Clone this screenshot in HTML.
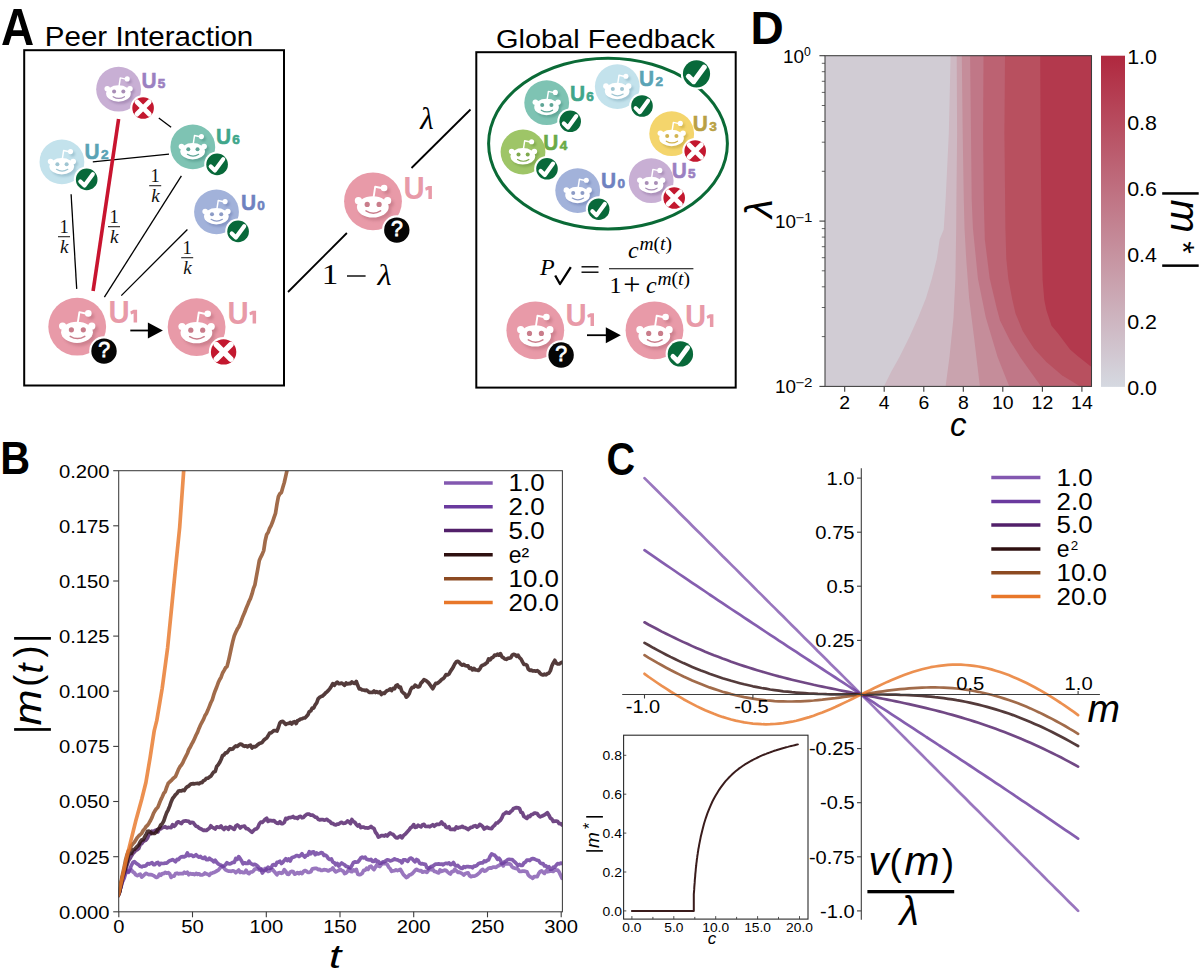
<!DOCTYPE html>
<html><head><meta charset="utf-8"><title>Figure</title>
<style>
html,body{margin:0;padding:0;background:#fff;}
body{width:1200px;height:970px;overflow:hidden;font-family:"Liberation Sans", sans-serif;}
svg{display:block;}
</style></head><body>
<svg width="1200" height="970" viewBox="0 0 1200 970">
<defs><filter id="shb" x="-30%" y="-30%" width="160%" height="160%"><feGaussianBlur stdDeviation="1.6"/></filter></defs>
<rect width="1200" height="970" fill="#fff"/>
<text x="0" y="44.8" font-family='"Liberation Sans", sans-serif' font-weight="bold" font-size="51" fill="#000" transform="translate(1.1 0) scale(0.9 1)">A</text><text x="44.8" y="45.8" font-family='"Liberation Sans", sans-serif' font-size="28.5" fill="#000" textLength="208.5" lengthAdjust="spacingAndGlyphs">Peer Interaction</text><rect x="24.2" y="50.2" width="259.8" height="335.3" fill="none" stroke="#000" stroke-width="2"/><line x1="158.8" y1="118" x2="171.1" y2="127.3" stroke="#000" stroke-width="1.3"/><line x1="92.8" y1="161.9" x2="169" y2="154.1" stroke="#000" stroke-width="1.3"/><line x1="71.1" y1="194.3" x2="76.7" y2="288.9" stroke="#000" stroke-width="1.3"/><line x1="118.6" y1="119" x2="93.1" y2="291.1" stroke="#c8142f" stroke-width="3.6"/><line x1="181.4" y1="175.8" x2="104.4" y2="297.2" stroke="#000" stroke-width="1.3"/><line x1="187.4" y1="229.5" x2="121.3" y2="295.6" stroke="#000" stroke-width="1.3"/><text x="64" y="233.1" font-family='"Liberation Serif", serif' font-size="18.5" text-anchor="middle" fill="#111">1</text><line x1="58" y1="236.7" x2="70" y2="236.7" stroke="#222" stroke-width="1.1"/><text x="64.2" y="252.7" font-family='"Liberation Serif", serif' font-style="italic" font-size="19" text-anchor="middle" fill="#111">k</text><text x="114" y="223.1" font-family='"Liberation Serif", serif' font-size="18.5" text-anchor="middle" fill="#111">1</text><line x1="108" y1="226.7" x2="120" y2="226.7" stroke="#222" stroke-width="1.1"/><text x="114.2" y="242.7" font-family='"Liberation Serif", serif' font-style="italic" font-size="19" text-anchor="middle" fill="#111">k</text><text x="155.2" y="182.1" font-family='"Liberation Serif", serif' font-size="18.5" text-anchor="middle" fill="#111">1</text><line x1="149.2" y1="185.7" x2="161.2" y2="185.7" stroke="#222" stroke-width="1.1"/><text x="155.4" y="201.7" font-family='"Liberation Serif", serif' font-style="italic" font-size="19" text-anchor="middle" fill="#111">k</text><text x="187.2" y="254.1" font-family='"Liberation Serif", serif' font-size="18.5" text-anchor="middle" fill="#111">1</text><line x1="181.2" y1="257.7" x2="193.2" y2="257.7" stroke="#222" stroke-width="1.1"/><text x="187.4" y="273.7" font-family='"Liberation Serif", serif' font-style="italic" font-size="19" text-anchor="middle" fill="#111">k</text><circle cx="118.6" cy="89.2" r="22.4" fill="#c8afd4"/><g transform="translate(118.6 89.2) scale(0.7751)"><g fill="#a185b1" opacity="0.75" filter="url(#shb)" transform="translate(2.6 3)"><ellipse cx="-0.2" cy="5.6" rx="15.9" ry="10.6"/><circle cx="14.6" cy="-0.6" r="3.6"/><circle cx="11.1" cy="-13.3" r="3.3"/></g><path d="M0.6 -4 L2.2 -14.6 L9.5 -13" fill="none" stroke="#fff" stroke-width="1.9" stroke-linejoin="round"/><circle cx="11.1" cy="-13.3" r="3.3" fill="#fff"/><circle cx="-14.6" cy="-0.6" r="3.6" fill="#fff"/><circle cx="14.6" cy="-0.6" r="3.6" fill="#fff"/><ellipse cx="-0.2" cy="5.6" rx="15.9" ry="10.6" fill="#fff"/><circle cx="-5.8" cy="3.1" r="2.6" fill="#a88db6"/><circle cx="6.1" cy="3.1" r="2.6" fill="#a88db6"/><path d="M-7 9.6 Q0.3 14.2 7.6 9.6" fill="none" stroke="#a88db6" stroke-width="1.5" stroke-linecap="round"/></g><circle cx="143.1" cy="108" r="12.9" fill="#fff"/><circle cx="143.1" cy="108" r="10.8" fill="#c3182f"/><path transform="translate(143.1 108) scale(0.964)" d="M-6.3 -6.3 L6.3 6.3 M6.3 -6.3 L-6.3 6.3" fill="none" stroke="#fff" stroke-width="5" stroke-linecap="round"/><text x="0" y="0" font-family='"Liberation Sans", sans-serif' font-weight="bold" font-size="22" fill="#9b80c1" stroke="#9b80c1" stroke-width="0.5" transform="translate(141.4 87.5) scale(0.95 1)">U</text><text x="157.8" y="87.5" font-family='"Liberation Sans", sans-serif' font-weight="bold" font-size="13.6" fill="#9b80c1" stroke="#9b80c1" stroke-width="0.6">5</text><circle cx="61.9" cy="161.9" r="22.4" fill="#c3e2ec"/><g transform="translate(61.9 161.9) scale(0.7751)"><g fill="#95bccb" opacity="0.75" filter="url(#shb)" transform="translate(2.6 3)"><ellipse cx="-0.2" cy="5.6" rx="15.9" ry="10.6"/><circle cx="14.6" cy="-0.6" r="3.6"/><circle cx="11.1" cy="-13.3" r="3.3"/></g><path d="M0.6 -4 L2.2 -14.6 L9.5 -13" fill="none" stroke="#fff" stroke-width="1.9" stroke-linejoin="round"/><circle cx="11.1" cy="-13.3" r="3.3" fill="#fff"/><circle cx="-14.6" cy="-0.6" r="3.6" fill="#fff"/><circle cx="14.6" cy="-0.6" r="3.6" fill="#fff"/><ellipse cx="-0.2" cy="5.6" rx="15.9" ry="10.6" fill="#fff"/><circle cx="-5.8" cy="3.1" r="2.6" fill="#9fc5d2"/><circle cx="6.1" cy="3.1" r="2.6" fill="#9fc5d2"/><path d="M-7 9.6 Q0.3 14.2 7.6 9.6" fill="none" stroke="#9fc5d2" stroke-width="1.5" stroke-linecap="round"/></g><circle cx="86.7" cy="179.4" r="12.9" fill="#fff"/><circle cx="86.7" cy="179.4" r="10.8" fill="#08693a"/><path transform="translate(86.7 179.4) scale(0.964)" d="M-6.6 2.2 L-2.3 6.4 L6.3 -5.4" fill="none" stroke="#fff" stroke-width="4.3" stroke-linecap="round" stroke-linejoin="round"/><text x="0" y="0" font-family='"Liberation Sans", sans-serif' font-weight="bold" font-size="22" fill="#5aa3b5" stroke="#5aa3b5" stroke-width="0.5" transform="translate(84.5 158.8) scale(0.95 1)">U</text><text x="100.9" y="158.8" font-family='"Liberation Sans", sans-serif' font-weight="bold" font-size="13.6" fill="#5aa3b5" stroke="#5aa3b5" stroke-width="0.6">2</text><circle cx="192.8" cy="146.9" r="22.4" fill="#7ec3b3"/><g transform="translate(192.8 146.9) scale(0.7751)"><g fill="#599f90" opacity="0.75" filter="url(#shb)" transform="translate(2.6 3)"><ellipse cx="-0.2" cy="5.6" rx="15.9" ry="10.6"/><circle cx="14.6" cy="-0.6" r="3.6"/><circle cx="11.1" cy="-13.3" r="3.3"/></g><path d="M0.6 -4 L2.2 -14.6 L9.5 -13" fill="none" stroke="#fff" stroke-width="1.9" stroke-linejoin="round"/><circle cx="11.1" cy="-13.3" r="3.3" fill="#fff"/><circle cx="-14.6" cy="-0.6" r="3.6" fill="#fff"/><circle cx="14.6" cy="-0.6" r="3.6" fill="#fff"/><ellipse cx="-0.2" cy="5.6" rx="15.9" ry="10.6" fill="#fff"/><circle cx="-5.8" cy="3.1" r="2.6" fill="#5ea596"/><circle cx="6.1" cy="3.1" r="2.6" fill="#5ea596"/><path d="M-7 9.6 Q0.3 14.2 7.6 9.6" fill="none" stroke="#5ea596" stroke-width="1.5" stroke-linecap="round"/></g><circle cx="217.1" cy="164.4" r="12.9" fill="#fff"/><circle cx="217.1" cy="164.4" r="10.8" fill="#08693a"/><path transform="translate(217.1 164.4) scale(0.964)" d="M-6.6 2.2 L-2.3 6.4 L6.3 -5.4" fill="none" stroke="#fff" stroke-width="4.3" stroke-linecap="round" stroke-linejoin="round"/><text x="0" y="0" font-family='"Liberation Sans", sans-serif' font-weight="bold" font-size="22" fill="#3fa68a" stroke="#3fa68a" stroke-width="0.5" transform="translate(216 143.7) scale(0.95 1)">U</text><text x="232.3" y="143.7" font-family='"Liberation Sans", sans-serif' font-weight="bold" font-size="13.6" fill="#3fa68a" stroke="#3fa68a" stroke-width="0.6">6</text><circle cx="216.5" cy="211.9" r="22.4" fill="#a2b2da"/><g transform="translate(216.5 211.9) scale(0.7751)"><g fill="#7c8cbd" opacity="0.75" filter="url(#shb)" transform="translate(2.6 3)"><ellipse cx="-0.2" cy="5.6" rx="15.9" ry="10.6"/><circle cx="14.6" cy="-0.6" r="3.6"/><circle cx="11.1" cy="-13.3" r="3.3"/></g><path d="M0.6 -4 L2.2 -14.6 L9.5 -13" fill="none" stroke="#fff" stroke-width="1.9" stroke-linejoin="round"/><circle cx="11.1" cy="-13.3" r="3.3" fill="#fff"/><circle cx="-14.6" cy="-0.6" r="3.6" fill="#fff"/><circle cx="14.6" cy="-0.6" r="3.6" fill="#fff"/><ellipse cx="-0.2" cy="5.6" rx="15.9" ry="10.6" fill="#fff"/><circle cx="-5.8" cy="3.1" r="2.6" fill="#8c9bc6"/><circle cx="6.1" cy="3.1" r="2.6" fill="#8c9bc6"/><path d="M-7 9.6 Q0.3 14.2 7.6 9.6" fill="none" stroke="#8c9bc6" stroke-width="1.5" stroke-linecap="round"/></g><circle cx="238.1" cy="231.4" r="12.9" fill="#fff"/><circle cx="238.1" cy="231.4" r="10.8" fill="#08693a"/><path transform="translate(238.1 231.4) scale(0.964)" d="M-6.6 2.2 L-2.3 6.4 L6.3 -5.4" fill="none" stroke="#fff" stroke-width="4.3" stroke-linecap="round" stroke-linejoin="round"/><text x="0" y="0" font-family='"Liberation Sans", sans-serif' font-weight="bold" font-size="22" fill="#6f82c0" stroke="#6f82c0" stroke-width="0.5" transform="translate(241 209.8) scale(0.95 1)">U</text><text x="257.3" y="209.8" font-family='"Liberation Sans", sans-serif' font-weight="bold" font-size="13.6" fill="#6f82c0" stroke="#6f82c0" stroke-width="0.6">0</text><circle cx="77.2" cy="326.7" r="28.9" fill="#e89aa8"/><g transform="translate(77.2 326.7) scale(1.0000)"><g fill="#c47886" opacity="0.75" filter="url(#shb)" transform="translate(2.6 3)"><ellipse cx="-0.2" cy="5.6" rx="15.9" ry="10.6"/><circle cx="14.6" cy="-0.6" r="3.6"/><circle cx="11.1" cy="-13.3" r="3.3"/></g><path d="M0.6 -4 L2.2 -14.6 L9.5 -13" fill="none" stroke="#fff" stroke-width="1.9" stroke-linejoin="round"/><circle cx="11.1" cy="-13.3" r="3.3" fill="#fff"/><circle cx="-14.6" cy="-0.6" r="3.6" fill="#fff"/><circle cx="14.6" cy="-0.6" r="3.6" fill="#fff"/><ellipse cx="-0.2" cy="5.6" rx="15.9" ry="10.6" fill="#fff"/><circle cx="-5.8" cy="3.1" r="2.6" fill="#c97d8b"/><circle cx="6.1" cy="3.1" r="2.6" fill="#c97d8b"/><path d="M-7 9.6 Q0.3 14.2 7.6 9.6" fill="none" stroke="#c97d8b" stroke-width="1.5" stroke-linecap="round"/></g><circle cx="104" cy="351.1" r="14.8" fill="#fff"/><circle cx="104" cy="351.1" r="12.7" fill="#050505"/><text x="104.1" y="356.9" font-family='"Liberation Sans", sans-serif' font-size="21.3" fill="#fff" stroke="#fff" stroke-width="0.8" text-anchor="middle">?</text><text x="0" y="0" font-family='"Liberation Sans", sans-serif' font-weight="bold" font-size="30.7" fill="#e89aa8" transform="translate(108.6 322.6) scale(0.955 1)">U</text><path d="M3.25 0 L6.8 0 L6.8 12.8 L3.3 12.8 L3.3 3.7 L0.75 4.6 L0 1.7 Z" fill="#e89aa8" transform="translate(130.3 309.8)"/><line x1="130.3" y1="330.5" x2="150.9" y2="330.5" stroke="#000" stroke-width="1.8"/><path d="M147.9 322.5 L162.9 330.5 L147.9 338.5 Z" fill="#000"/><circle cx="196.6" cy="327.1" r="28.9" fill="#e89aa8"/><g transform="translate(196.6 327.1) scale(1.0000)"><g fill="#c47886" opacity="0.75" filter="url(#shb)" transform="translate(2.6 3)"><ellipse cx="-0.2" cy="5.6" rx="15.9" ry="10.6"/><circle cx="14.6" cy="-0.6" r="3.6"/><circle cx="11.1" cy="-13.3" r="3.3"/></g><path d="M0.6 -4 L2.2 -14.6 L9.5 -13" fill="none" stroke="#fff" stroke-width="1.9" stroke-linejoin="round"/><circle cx="11.1" cy="-13.3" r="3.3" fill="#fff"/><circle cx="-14.6" cy="-0.6" r="3.6" fill="#fff"/><circle cx="14.6" cy="-0.6" r="3.6" fill="#fff"/><ellipse cx="-0.2" cy="5.6" rx="15.9" ry="10.6" fill="#fff"/><circle cx="-5.8" cy="3.1" r="2.6" fill="#c97d8b"/><circle cx="6.1" cy="3.1" r="2.6" fill="#c97d8b"/><path d="M-7 9.6 Q0.3 14.2 7.6 9.6" fill="none" stroke="#c97d8b" stroke-width="1.5" stroke-linecap="round"/></g><circle cx="223.6" cy="351.9" r="14.8" fill="#fff"/><circle cx="223.6" cy="351.9" r="12.7" fill="#c3182f"/><path transform="translate(223.6 351.9) scale(1.134)" d="M-6.3 -6.3 L6.3 6.3 M6.3 -6.3 L-6.3 6.3" fill="none" stroke="#fff" stroke-width="5" stroke-linecap="round"/><text x="0" y="0" font-family='"Liberation Sans", sans-serif' font-weight="bold" font-size="30.7" fill="#e89aa8" transform="translate(227.6 323.5) scale(0.955 1)">U</text><path d="M3.25 0 L6.8 0 L6.8 12.8 L3.3 12.8 L3.3 3.7 L0.75 4.6 L0 1.7 Z" fill="#e89aa8" transform="translate(249.3 310.7)"/><line x1="411.5" y1="168" x2="470.5" y2="109.5" stroke="#000" stroke-width="1.8"/><line x1="288" y1="292" x2="346.9" y2="233" stroke="#000" stroke-width="1.8"/><text x="427" y="128.8" font-family='"Liberation Serif", serif' font-style="italic" font-size="31" text-anchor="middle" fill="#000">λ</text><text x="0" y="0" font-family='"Liberation Serif", serif' font-size="30" fill="#000" transform="translate(321.8 284) scale(1.1 1)">1</text><line x1="347" y1="276" x2="365.6" y2="276" stroke="#000" stroke-width="1.4"/><text x="0" y="0" font-family='"Liberation Serif", serif' font-style="italic" font-size="29" fill="#000" transform="translate(377.5 284.6) scale(1.12 1)">λ</text><circle cx="373" cy="201.3" r="28.9" fill="#e89aa8"/><g transform="translate(373 201.3) scale(1.0000)"><g fill="#c47886" opacity="0.75" filter="url(#shb)" transform="translate(2.6 3)"><ellipse cx="-0.2" cy="5.6" rx="15.9" ry="10.6"/><circle cx="14.6" cy="-0.6" r="3.6"/><circle cx="11.1" cy="-13.3" r="3.3"/></g><path d="M0.6 -4 L2.2 -14.6 L9.5 -13" fill="none" stroke="#fff" stroke-width="1.9" stroke-linejoin="round"/><circle cx="11.1" cy="-13.3" r="3.3" fill="#fff"/><circle cx="-14.6" cy="-0.6" r="3.6" fill="#fff"/><circle cx="14.6" cy="-0.6" r="3.6" fill="#fff"/><ellipse cx="-0.2" cy="5.6" rx="15.9" ry="10.6" fill="#fff"/><circle cx="-5.8" cy="3.1" r="2.6" fill="#c97d8b"/><circle cx="6.1" cy="3.1" r="2.6" fill="#c97d8b"/><path d="M-7 9.6 Q0.3 14.2 7.6 9.6" fill="none" stroke="#c97d8b" stroke-width="1.5" stroke-linecap="round"/></g><circle cx="396.8" cy="230.1" r="14.8" fill="#fff"/><circle cx="396.8" cy="230.1" r="12.7" fill="#050505"/><text x="396.9" y="235.9" font-family='"Liberation Sans", sans-serif' font-size="21.3" fill="#fff" stroke="#fff" stroke-width="0.8" text-anchor="middle">?</text><text x="0" y="0" font-family='"Liberation Sans", sans-serif' font-weight="bold" font-size="30.7" fill="#e89aa8" transform="translate(403.4 198.9) scale(0.955 1)">U</text><path d="M3.25 0 L6.8 0 L6.8 12.8 L3.3 12.8 L3.3 3.7 L0.75 4.6 L0 1.7 Z" fill="#e89aa8" transform="translate(425.1 186.1)"/><text x="496" y="48.3" font-family='"Liberation Sans", sans-serif' font-size="26" fill="#000" textLength="219" lengthAdjust="spacingAndGlyphs">Global Feedback</text><rect x="476.3" y="52.2" width="259.4" height="335.4" fill="none" stroke="#000" stroke-width="2"/><ellipse cx="608" cy="143.6" rx="119.4" ry="85.4" fill="none" stroke="#0a6a36" stroke-width="3"/><circle cx="696.5" cy="73.8" r="15.7" fill="#fff"/><circle cx="696.5" cy="73.8" r="13.6" fill="#08693a"/><path transform="translate(696.5 73.8) scale(1.214)" d="M-6.6 2.2 L-2.3 6.4 L6.3 -5.4" fill="none" stroke="#fff" stroke-width="4.3" stroke-linecap="round" stroke-linejoin="round"/><circle cx="546.7" cy="102.7" r="22.4" fill="#7ec3b3"/><g transform="translate(546.7 102.7) scale(0.7751)"><g fill="#599f90" opacity="0.75" filter="url(#shb)" transform="translate(2.6 3)"><ellipse cx="-0.2" cy="5.6" rx="15.9" ry="10.6"/><circle cx="14.6" cy="-0.6" r="3.6"/><circle cx="11.1" cy="-13.3" r="3.3"/></g><path d="M0.6 -4 L2.2 -14.6 L9.5 -13" fill="none" stroke="#fff" stroke-width="1.9" stroke-linejoin="round"/><circle cx="11.1" cy="-13.3" r="3.3" fill="#fff"/><circle cx="-14.6" cy="-0.6" r="3.6" fill="#fff"/><circle cx="14.6" cy="-0.6" r="3.6" fill="#fff"/><ellipse cx="-0.2" cy="5.6" rx="15.9" ry="10.6" fill="#fff"/><circle cx="-5.8" cy="3.1" r="2.6" fill="#5ea596"/><circle cx="6.1" cy="3.1" r="2.6" fill="#5ea596"/><path d="M-7 9.6 Q0.3 14.2 7.6 9.6" fill="none" stroke="#5ea596" stroke-width="1.5" stroke-linecap="round"/></g><circle cx="570.2" cy="121.3" r="12.9" fill="#fff"/><circle cx="570.2" cy="121.3" r="10.8" fill="#08693a"/><path transform="translate(570.2 121.3) scale(0.964)" d="M-6.6 2.2 L-2.3 6.4 L6.3 -5.4" fill="none" stroke="#fff" stroke-width="4.3" stroke-linecap="round" stroke-linejoin="round"/><text x="0" y="0" font-family='"Liberation Sans", sans-serif' font-weight="bold" font-size="22" fill="#3fa68a" stroke="#3fa68a" stroke-width="0.5" transform="translate(570 101.2) scale(0.95 1)">U</text><text x="586.2" y="101.2" font-family='"Liberation Sans", sans-serif' font-weight="bold" font-size="13.6" fill="#3fa68a" stroke="#3fa68a" stroke-width="0.6">6</text><circle cx="617.3" cy="86.6" r="22.4" fill="#c3e2ec"/><g transform="translate(617.3 86.6) scale(0.7751)"><g fill="#95bccb" opacity="0.75" filter="url(#shb)" transform="translate(2.6 3)"><ellipse cx="-0.2" cy="5.6" rx="15.9" ry="10.6"/><circle cx="14.6" cy="-0.6" r="3.6"/><circle cx="11.1" cy="-13.3" r="3.3"/></g><path d="M0.6 -4 L2.2 -14.6 L9.5 -13" fill="none" stroke="#fff" stroke-width="1.9" stroke-linejoin="round"/><circle cx="11.1" cy="-13.3" r="3.3" fill="#fff"/><circle cx="-14.6" cy="-0.6" r="3.6" fill="#fff"/><circle cx="14.6" cy="-0.6" r="3.6" fill="#fff"/><ellipse cx="-0.2" cy="5.6" rx="15.9" ry="10.6" fill="#fff"/><circle cx="-5.8" cy="3.1" r="2.6" fill="#9fc5d2"/><circle cx="6.1" cy="3.1" r="2.6" fill="#9fc5d2"/><path d="M-7 9.6 Q0.3 14.2 7.6 9.6" fill="none" stroke="#9fc5d2" stroke-width="1.5" stroke-linecap="round"/></g><circle cx="642" cy="106" r="12.9" fill="#fff"/><circle cx="642" cy="106" r="10.8" fill="#08693a"/><path transform="translate(642 106) scale(0.964)" d="M-6.6 2.2 L-2.3 6.4 L6.3 -5.4" fill="none" stroke="#fff" stroke-width="4.3" stroke-linecap="round" stroke-linejoin="round"/><text x="0" y="0" font-family='"Liberation Sans", sans-serif' font-weight="bold" font-size="22" fill="#5aa3b5" stroke="#5aa3b5" stroke-width="0.5" transform="translate(639.1 85.8) scale(0.95 1)">U</text><text x="655.5" y="85.8" font-family='"Liberation Sans", sans-serif' font-weight="bold" font-size="13.6" fill="#5aa3b5" stroke="#5aa3b5" stroke-width="0.6">2</text><circle cx="523" cy="152" r="22.4" fill="#9ec567"/><g transform="translate(523 152) scale(0.7751)"><g fill="#7aa348" opacity="0.75" filter="url(#shb)" transform="translate(2.6 3)"><ellipse cx="-0.2" cy="5.6" rx="15.9" ry="10.6"/><circle cx="14.6" cy="-0.6" r="3.6"/><circle cx="11.1" cy="-13.3" r="3.3"/></g><path d="M0.6 -4 L2.2 -14.6 L9.5 -13" fill="none" stroke="#fff" stroke-width="1.9" stroke-linejoin="round"/><circle cx="11.1" cy="-13.3" r="3.3" fill="#fff"/><circle cx="-14.6" cy="-0.6" r="3.6" fill="#fff"/><circle cx="14.6" cy="-0.6" r="3.6" fill="#fff"/><ellipse cx="-0.2" cy="5.6" rx="15.9" ry="10.6" fill="#fff"/><circle cx="-5.8" cy="3.1" r="2.6" fill="#7ea94c"/><circle cx="6.1" cy="3.1" r="2.6" fill="#7ea94c"/><path d="M-7 9.6 Q0.3 14.2 7.6 9.6" fill="none" stroke="#7ea94c" stroke-width="1.5" stroke-linecap="round"/></g><circle cx="547" cy="168.8" r="12.9" fill="#fff"/><circle cx="547" cy="168.8" r="10.8" fill="#08693a"/><path transform="translate(547 168.8) scale(0.964)" d="M-6.6 2.2 L-2.3 6.4 L6.3 -5.4" fill="none" stroke="#fff" stroke-width="4.3" stroke-linecap="round" stroke-linejoin="round"/><text x="0" y="0" font-family='"Liberation Sans", sans-serif' font-weight="bold" font-size="22" fill="#6aaa48" stroke="#6aaa48" stroke-width="0.5" transform="translate(543.2 149.5) scale(0.95 1)">U</text><text x="559.8" y="149.5" font-family='"Liberation Sans", sans-serif' font-weight="bold" font-size="13.6" fill="#6aaa48" stroke="#6aaa48" stroke-width="0.6">4</text><circle cx="671.7" cy="133.7" r="22.4" fill="#f4d56c"/><g transform="translate(671.7 133.7) scale(0.7751)"><g fill="#cdb14c" opacity="0.75" filter="url(#shb)" transform="translate(2.6 3)"><ellipse cx="-0.2" cy="5.6" rx="15.9" ry="10.6"/><circle cx="14.6" cy="-0.6" r="3.6"/><circle cx="11.1" cy="-13.3" r="3.3"/></g><path d="M0.6 -4 L2.2 -14.6 L9.5 -13" fill="none" stroke="#fff" stroke-width="1.9" stroke-linejoin="round"/><circle cx="11.1" cy="-13.3" r="3.3" fill="#fff"/><circle cx="-14.6" cy="-0.6" r="3.6" fill="#fff"/><circle cx="14.6" cy="-0.6" r="3.6" fill="#fff"/><ellipse cx="-0.2" cy="5.6" rx="15.9" ry="10.6" fill="#fff"/><circle cx="-5.8" cy="3.1" r="2.6" fill="#d2b452"/><circle cx="6.1" cy="3.1" r="2.6" fill="#d2b452"/><path d="M-7 9.6 Q0.3 14.2 7.6 9.6" fill="none" stroke="#d2b452" stroke-width="1.5" stroke-linecap="round"/></g><circle cx="695.2" cy="151" r="12.9" fill="#fff"/><circle cx="695.2" cy="151" r="10.8" fill="#c3182f"/><path transform="translate(695.2 151) scale(0.964)" d="M-6.3 -6.3 L6.3 6.3 M6.3 -6.3 L-6.3 6.3" fill="none" stroke="#fff" stroke-width="5" stroke-linecap="round"/><text x="0" y="0" font-family='"Liberation Sans", sans-serif' font-weight="bold" font-size="22" fill="#b9a043" stroke="#b9a043" stroke-width="0.5" transform="translate(692.7 131.2) scale(0.95 1)">U</text><text x="709.3" y="131.2" font-family='"Liberation Sans", sans-serif' font-weight="bold" font-size="13.6" fill="#b9a043" stroke="#b9a043" stroke-width="0.6">3</text><circle cx="577.7" cy="190.6" r="22.4" fill="#a2b2da"/><g transform="translate(577.7 190.6) scale(0.7751)"><g fill="#7c8cbd" opacity="0.75" filter="url(#shb)" transform="translate(2.6 3)"><ellipse cx="-0.2" cy="5.6" rx="15.9" ry="10.6"/><circle cx="14.6" cy="-0.6" r="3.6"/><circle cx="11.1" cy="-13.3" r="3.3"/></g><path d="M0.6 -4 L2.2 -14.6 L9.5 -13" fill="none" stroke="#fff" stroke-width="1.9" stroke-linejoin="round"/><circle cx="11.1" cy="-13.3" r="3.3" fill="#fff"/><circle cx="-14.6" cy="-0.6" r="3.6" fill="#fff"/><circle cx="14.6" cy="-0.6" r="3.6" fill="#fff"/><ellipse cx="-0.2" cy="5.6" rx="15.9" ry="10.6" fill="#fff"/><circle cx="-5.8" cy="3.1" r="2.6" fill="#8c9bc6"/><circle cx="6.1" cy="3.1" r="2.6" fill="#8c9bc6"/><path d="M-7 9.6 Q0.3 14.2 7.6 9.6" fill="none" stroke="#8c9bc6" stroke-width="1.5" stroke-linecap="round"/></g><circle cx="598.7" cy="209.2" r="12.9" fill="#fff"/><circle cx="598.7" cy="209.2" r="10.8" fill="#08693a"/><path transform="translate(598.7 209.2) scale(0.964)" d="M-6.6 2.2 L-2.3 6.4 L6.3 -5.4" fill="none" stroke="#fff" stroke-width="4.3" stroke-linecap="round" stroke-linejoin="round"/><text x="0" y="0" font-family='"Liberation Sans", sans-serif' font-weight="bold" font-size="22" fill="#6f82c0" stroke="#6f82c0" stroke-width="0.5" transform="translate(601.1 188.1) scale(0.95 1)">U</text><text x="617.4" y="188.1" font-family='"Liberation Sans", sans-serif' font-weight="bold" font-size="13.6" fill="#6f82c0" stroke="#6f82c0" stroke-width="0.6">0</text><circle cx="651.2" cy="180.7" r="22.4" fill="#c8afd4"/><g transform="translate(651.2 180.7) scale(0.7751)"><g fill="#a185b1" opacity="0.75" filter="url(#shb)" transform="translate(2.6 3)"><ellipse cx="-0.2" cy="5.6" rx="15.9" ry="10.6"/><circle cx="14.6" cy="-0.6" r="3.6"/><circle cx="11.1" cy="-13.3" r="3.3"/></g><path d="M0.6 -4 L2.2 -14.6 L9.5 -13" fill="none" stroke="#fff" stroke-width="1.9" stroke-linejoin="round"/><circle cx="11.1" cy="-13.3" r="3.3" fill="#fff"/><circle cx="-14.6" cy="-0.6" r="3.6" fill="#fff"/><circle cx="14.6" cy="-0.6" r="3.6" fill="#fff"/><ellipse cx="-0.2" cy="5.6" rx="15.9" ry="10.6" fill="#fff"/><circle cx="-5.8" cy="3.1" r="2.6" fill="#a88db6"/><circle cx="6.1" cy="3.1" r="2.6" fill="#a88db6"/><path d="M-7 9.6 Q0.3 14.2 7.6 9.6" fill="none" stroke="#a88db6" stroke-width="1.5" stroke-linecap="round"/></g><circle cx="674.2" cy="198" r="12.9" fill="#fff"/><circle cx="674.2" cy="198" r="10.8" fill="#c3182f"/><path transform="translate(674.2 198) scale(0.964)" d="M-6.3 -6.3 L6.3 6.3 M6.3 -6.3 L-6.3 6.3" fill="none" stroke="#fff" stroke-width="5" stroke-linecap="round"/><text x="0" y="0" font-family='"Liberation Sans", sans-serif' font-weight="bold" font-size="22" fill="#9b80c1" stroke="#9b80c1" stroke-width="0.5" transform="translate(671.7 177.7) scale(0.95 1)">U</text><text x="688.1" y="177.7" font-family='"Liberation Sans", sans-serif' font-weight="bold" font-size="13.6" fill="#9b80c1" stroke="#9b80c1" stroke-width="0.6">5</text><text x="540" y="275" font-family='"Liberation Serif", serif' font-style="italic" font-size="24" fill="#000">P</text><path d="M555.2 275.5 L560 284 L570.8 267.2" fill="none" stroke="#000" stroke-width="2.3" stroke-linejoin="round"/><line x1="581.5" y1="266.8" x2="598.5" y2="266.8" stroke="#000" stroke-width="1.4"/><line x1="581.5" y1="272.2" x2="598.5" y2="272.2" stroke="#000" stroke-width="1.4"/><line x1="609" y1="268.8" x2="693.4" y2="268.8" stroke="#000" stroke-width="1.1"/><text x="628" y="258" font-family='"Liberation Serif", serif' font-style="italic" font-size="24" fill="#000">c</text><text x="639.5" y="250" font-family='"Liberation Serif", serif' font-size="19" fill="#000" textLength="32.5" lengthAdjust="spacingAndGlyphs"><tspan font-style="italic">m</tspan>(<tspan font-style="italic">t</tspan>)</text><text x="609.5" y="293" font-family='"Liberation Serif", serif' font-size="24" fill="#000">1</text><text x="623.2" y="295.2" font-family='"Liberation Serif", serif' font-size="30.5" fill="#000">+</text><text x="646" y="293" font-family='"Liberation Serif", serif' font-style="italic" font-size="24" fill="#000">c</text><text x="657.5" y="285" font-family='"Liberation Serif", serif' font-size="19" fill="#000" textLength="32.5" lengthAdjust="spacingAndGlyphs"><tspan font-style="italic">m</tspan>(<tspan font-style="italic">t</tspan>)</text><circle cx="535.3" cy="330.3" r="28.9" fill="#e89aa8"/><g transform="translate(535.3 330.3) scale(1.0000)"><g fill="#c47886" opacity="0.75" filter="url(#shb)" transform="translate(2.6 3)"><ellipse cx="-0.2" cy="5.6" rx="15.9" ry="10.6"/><circle cx="14.6" cy="-0.6" r="3.6"/><circle cx="11.1" cy="-13.3" r="3.3"/></g><path d="M0.6 -4 L2.2 -14.6 L9.5 -13" fill="none" stroke="#fff" stroke-width="1.9" stroke-linejoin="round"/><circle cx="11.1" cy="-13.3" r="3.3" fill="#fff"/><circle cx="-14.6" cy="-0.6" r="3.6" fill="#fff"/><circle cx="14.6" cy="-0.6" r="3.6" fill="#fff"/><ellipse cx="-0.2" cy="5.6" rx="15.9" ry="10.6" fill="#fff"/><circle cx="-5.8" cy="3.1" r="2.6" fill="#c97d8b"/><circle cx="6.1" cy="3.1" r="2.6" fill="#c97d8b"/><path d="M-7 9.6 Q0.3 14.2 7.6 9.6" fill="none" stroke="#c97d8b" stroke-width="1.5" stroke-linecap="round"/></g><circle cx="561.1" cy="355" r="14.8" fill="#fff"/><circle cx="561.1" cy="355" r="12.7" fill="#050505"/><text x="561.2" y="360.8" font-family='"Liberation Sans", sans-serif' font-size="21.3" fill="#fff" stroke="#fff" stroke-width="0.8" text-anchor="middle">?</text><text x="0" y="0" font-family='"Liberation Sans", sans-serif' font-weight="bold" font-size="30.7" fill="#e89aa8" transform="translate(565.5 326) scale(0.955 1)">U</text><path d="M3.25 0 L6.8 0 L6.8 12.8 L3.3 12.8 L3.3 3.7 L0.75 4.6 L0 1.7 Z" fill="#e89aa8" transform="translate(587.2 313.2)"/><line x1="587" y1="335.2" x2="608.8" y2="335.2" stroke="#000" stroke-width="1.8"/><path d="M605.8 327.2 L620.8 335.2 L605.8 343.2 Z" fill="#000"/><circle cx="654.5" cy="330.3" r="28.9" fill="#e89aa8"/><g transform="translate(654.5 330.3) scale(1.0000)"><g fill="#c47886" opacity="0.75" filter="url(#shb)" transform="translate(2.6 3)"><ellipse cx="-0.2" cy="5.6" rx="15.9" ry="10.6"/><circle cx="14.6" cy="-0.6" r="3.6"/><circle cx="11.1" cy="-13.3" r="3.3"/></g><path d="M0.6 -4 L2.2 -14.6 L9.5 -13" fill="none" stroke="#fff" stroke-width="1.9" stroke-linejoin="round"/><circle cx="11.1" cy="-13.3" r="3.3" fill="#fff"/><circle cx="-14.6" cy="-0.6" r="3.6" fill="#fff"/><circle cx="14.6" cy="-0.6" r="3.6" fill="#fff"/><ellipse cx="-0.2" cy="5.6" rx="15.9" ry="10.6" fill="#fff"/><circle cx="-5.8" cy="3.1" r="2.6" fill="#c97d8b"/><circle cx="6.1" cy="3.1" r="2.6" fill="#c97d8b"/><path d="M-7 9.6 Q0.3 14.2 7.6 9.6" fill="none" stroke="#c97d8b" stroke-width="1.5" stroke-linecap="round"/></g><circle cx="680.4" cy="353.9" r="14.8" fill="#fff"/><circle cx="680.4" cy="353.9" r="12.7" fill="#08693a"/><path transform="translate(680.4 353.9) scale(1.134)" d="M-6.6 2.2 L-2.3 6.4 L6.3 -5.4" fill="none" stroke="#fff" stroke-width="4.3" stroke-linecap="round" stroke-linejoin="round"/><text x="0" y="0" font-family='"Liberation Sans", sans-serif' font-weight="bold" font-size="30.7" fill="#e89aa8" transform="translate(684.9 327) scale(0.955 1)">U</text><path d="M3.25 0 L6.8 0 L6.8 12.8 L3.3 12.8 L3.3 3.7 L0.75 4.6 L0 1.7 Z" fill="#e89aa8" transform="translate(706.6 314.2)"/><text x="0" y="44.3" font-family='"Liberation Sans", sans-serif' font-weight="bold" font-size="46" fill="#000" transform="translate(750.6 0)">D</text><rect x="825" y="55.7" width="266.5" height="330.7" fill="#d1ccd4"/><polygon points="950.6,55.7 948.8,133.5 945.6,200 943.7,229.4 939.7,239.2 936.8,258.8 931.9,278.4 926,297.9 918.2,317.5 909.4,337.1 899.6,356.7 890.8,372.4 883.9,386.4 1091.5,386.4 1091.5,55.7" fill="#ceb9c3"/><polygon points="956.7,55.7 957.1,133.5 956.4,200 956.2,228 955.4,278.4 953.5,317.5 949.5,356.7 945.6,386.4 1091.5,386.4 1091.5,55.7" fill="#c9a3ae"/><polygon points="961.8,55.7 962.7,133.5 963.8,200 964.5,228 966.2,258.8 969.1,297.9 974,337.1 979.9,386.4 1091.5,386.4 1091.5,55.7" fill="#c58d9a"/><polygon points="970.1,55.7 971,133.5 971.7,200 972.9,228 974,239.2 977.9,278.4 985.8,317.5 997.5,356.7 1003.5,372 1009.3,386.4 1091.5,386.4 1091.5,55.7" fill="#c07787"/><polygon points="983.5,55.7 983.1,133.5 983.8,200 984.8,239.2 989.7,278.4 996.6,307.7 1000,320.6 1010.3,341.2 1020.6,357.7 1030.9,372.2 1041.2,386.4 1091.5,386.4 1091.5,55.7" fill="#bc6272"/><polygon points="1005,55.7 1004.4,133.5 1005.4,228 1006.3,258.8 1008.3,278.4 1012.4,300 1015.5,313.4 1022.7,330.9 1034,348.5 1046.4,361.9 1061.9,375.3 1080.4,386.4 1091.5,386.4 1091.5,55.7" fill="#b8505f"/><polygon points="1040.2,55.7 1040.6,133.5 1041.5,228 1042.6,280 1044.3,300 1046.4,310.3 1051.5,325.8 1057.7,333 1063.9,341.2 1070.1,349.5 1077.3,355.7 1091.5,367 1091.5,55.7" fill="#b3394d"/><rect x="825" y="55.7" width="266.5" height="330.7" fill="none" stroke="#3d3d3d" stroke-width="1.05"/><line x1="819.4" y1="55.7" x2="825" y2="55.7" stroke="#3d3d3d" stroke-width="1.1"/><line x1="819.4" y1="221.1" x2="825" y2="221.1" stroke="#3d3d3d" stroke-width="1.1"/><line x1="819.4" y1="386.4" x2="825" y2="386.4" stroke="#3d3d3d" stroke-width="1.1"/><line x1="821.8" y1="171.3" x2="825" y2="171.3" stroke="#3d3d3d" stroke-width="0.8"/><line x1="821.8" y1="142.2" x2="825" y2="142.2" stroke="#3d3d3d" stroke-width="0.8"/><line x1="821.8" y1="121.5" x2="825" y2="121.5" stroke="#3d3d3d" stroke-width="0.8"/><line x1="821.8" y1="105.5" x2="825" y2="105.5" stroke="#3d3d3d" stroke-width="0.8"/><line x1="821.8" y1="92.4" x2="825" y2="92.4" stroke="#3d3d3d" stroke-width="0.8"/><line x1="821.8" y1="81.3" x2="825" y2="81.3" stroke="#3d3d3d" stroke-width="0.8"/><line x1="821.8" y1="71.7" x2="825" y2="71.7" stroke="#3d3d3d" stroke-width="0.8"/><line x1="821.8" y1="63.3" x2="825" y2="63.3" stroke="#3d3d3d" stroke-width="0.8"/><line x1="821.8" y1="336.6" x2="825" y2="336.6" stroke="#3d3d3d" stroke-width="0.8"/><line x1="821.8" y1="307.5" x2="825" y2="307.5" stroke="#3d3d3d" stroke-width="0.8"/><line x1="821.8" y1="286.8" x2="825" y2="286.8" stroke="#3d3d3d" stroke-width="0.8"/><line x1="821.8" y1="270.8" x2="825" y2="270.8" stroke="#3d3d3d" stroke-width="0.8"/><line x1="821.8" y1="257.7" x2="825" y2="257.7" stroke="#3d3d3d" stroke-width="0.8"/><line x1="821.8" y1="246.7" x2="825" y2="246.7" stroke="#3d3d3d" stroke-width="0.8"/><line x1="821.8" y1="237.1" x2="825" y2="237.1" stroke="#3d3d3d" stroke-width="0.8"/><line x1="821.8" y1="228.6" x2="825" y2="228.6" stroke="#3d3d3d" stroke-width="0.8"/><text x="803.9" y="62.7" font-family='"Liberation Sans", sans-serif' font-size="17.8" fill="#000" text-anchor="end" textLength="21" lengthAdjust="spacingAndGlyphs">10</text><text x="804" y="56.2" font-family='"Liberation Sans", sans-serif' font-size="12.2" fill="#000">0</text><text x="795.9" y="228.1" font-family='"Liberation Sans", sans-serif' font-size="17.8" fill="#000" text-anchor="end" textLength="21" lengthAdjust="spacingAndGlyphs">10</text><text x="795.3" y="221.6" font-family='"Liberation Sans", sans-serif' font-size="12.2" fill="#000" textLength="17.2" lengthAdjust="spacingAndGlyphs">−1</text><text x="795.9" y="393.4" font-family='"Liberation Sans", sans-serif' font-size="17.8" fill="#000" text-anchor="end" textLength="21" lengthAdjust="spacingAndGlyphs">10</text><text x="795.3" y="386.9" font-family='"Liberation Sans", sans-serif' font-size="12.2" fill="#000" textLength="17.2" lengthAdjust="spacingAndGlyphs">−2</text><line x1="844.7" y1="386.4" x2="844.7" y2="391.8" stroke="#3d3d3d" stroke-width="1.1"/><text x="844.7" y="408.7" font-family='"Liberation Sans", sans-serif' font-size="17.8" fill="#000" text-anchor="middle" textLength="10.8" lengthAdjust="spacingAndGlyphs">2</text><line x1="884.2" y1="386.4" x2="884.2" y2="391.8" stroke="#3d3d3d" stroke-width="1.1"/><text x="884.2" y="408.7" font-family='"Liberation Sans", sans-serif' font-size="17.8" fill="#000" text-anchor="middle" textLength="10.8" lengthAdjust="spacingAndGlyphs">4</text><line x1="923.8" y1="386.4" x2="923.8" y2="391.8" stroke="#3d3d3d" stroke-width="1.1"/><text x="923.8" y="408.7" font-family='"Liberation Sans", sans-serif' font-size="17.8" fill="#000" text-anchor="middle" textLength="10.8" lengthAdjust="spacingAndGlyphs">6</text><line x1="963.3" y1="386.4" x2="963.3" y2="391.8" stroke="#3d3d3d" stroke-width="1.1"/><text x="963.3" y="408.7" font-family='"Liberation Sans", sans-serif' font-size="17.8" fill="#000" text-anchor="middle" textLength="10.8" lengthAdjust="spacingAndGlyphs">8</text><line x1="1002.8" y1="386.4" x2="1002.8" y2="391.8" stroke="#3d3d3d" stroke-width="1.1"/><text x="1002.8" y="408.7" font-family='"Liberation Sans", sans-serif' font-size="17.8" fill="#000" text-anchor="middle" textLength="21.6" lengthAdjust="spacingAndGlyphs">10</text><line x1="1042.4" y1="386.4" x2="1042.4" y2="391.8" stroke="#3d3d3d" stroke-width="1.1"/><text x="1042.4" y="408.7" font-family='"Liberation Sans", sans-serif' font-size="17.8" fill="#000" text-anchor="middle" textLength="21.6" lengthAdjust="spacingAndGlyphs">12</text><line x1="1081.9" y1="386.4" x2="1081.9" y2="391.8" stroke="#3d3d3d" stroke-width="1.1"/><text x="1081.9" y="408.7" font-family='"Liberation Sans", sans-serif' font-size="17.8" fill="#000" text-anchor="middle" textLength="21.6" lengthAdjust="spacingAndGlyphs">14</text><text x="950" y="436" font-family='"Liberation Sans", sans-serif' font-style="italic" font-size="33" fill="#000">c</text><text x="0" y="0" font-family='"Liberation Sans", sans-serif' font-style="italic" font-size="38" fill="#000" transform="translate(772.3 218) rotate(-90)">λ</text><defs><linearGradient id="cb" x1="0" y1="1" x2="0" y2="0"><stop offset="0" stop-color="#d5d9e1"/><stop offset="1" stop-color="#b0283e"/></linearGradient></defs><rect x="1101" y="55.7" width="24" height="331.2" fill="url(#cb)"/><text x="1127.2" y="394.7" font-family='"Liberation Sans", sans-serif' font-size="19.6" fill="#000" text-anchor="start" textLength="29.8" lengthAdjust="spacingAndGlyphs">0.0</text><text x="1127.2" y="328.6" font-family='"Liberation Sans", sans-serif' font-size="19.6" fill="#000" text-anchor="start" textLength="29.8" lengthAdjust="spacingAndGlyphs">0.2</text><text x="1127.2" y="262.4" font-family='"Liberation Sans", sans-serif' font-size="19.6" fill="#000" text-anchor="start" textLength="29.8" lengthAdjust="spacingAndGlyphs">0.4</text><text x="1127.2" y="196.3" font-family='"Liberation Sans", sans-serif' font-size="19.6" fill="#000" text-anchor="start" textLength="29.8" lengthAdjust="spacingAndGlyphs">0.6</text><text x="1127.2" y="130.1" font-family='"Liberation Sans", sans-serif' font-size="19.6" fill="#000" text-anchor="start" textLength="29.8" lengthAdjust="spacingAndGlyphs">0.8</text><text x="1127.2" y="64" font-family='"Liberation Sans", sans-serif' font-size="19.6" fill="#000" text-anchor="start" textLength="29.8" lengthAdjust="spacingAndGlyphs">1.0</text><rect x="1162.2" y="192.2" width="36.5" height="2.5" fill="#000"/><rect x="1162.2" y="264.4" width="36.5" height="2.5" fill="#000"/><text x="0" y="0" font-family='"Liberation Sans", sans-serif' font-style="italic" font-size="40" fill="#000" transform="translate(1170.8 199.5) rotate(90)">m</text><text x="0" y="0" font-family='"Liberation Sans", sans-serif' font-size="32" fill="#000" transform="translate(1172.3 241.2) rotate(90)">*</text><text x="0" y="474" font-family='"Liberation Sans", sans-serif' font-weight="bold" font-size="46" fill="#000" transform="translate(0.2 0) scale(0.9 1)">B</text><defs><clipPath id="cpB"><rect x="118.7" y="470.7" width="443.7" height="441.1"/></clipPath></defs><g clip-path="url(#cpB)"><path d="M118.2 895.5 L119.7 890.1 L121.1 886.5 L122.6 880.7 L124.1 874.3 L125.5 869.9 L127 870.6 L128.5 872.3 L130 870.8 L131.4 870 L132.9 871.9 L134.4 872.9 L135.8 874.9 L137.3 875.6 L138.8 874.8 L140.2 874.2 L141.7 877.1 L143.2 875.8 L144.7 874.4 L146.1 873.3 L147.6 874.1 L149.1 874.7 L150.5 874.6 L152 874.9 L153.5 875.6 L154.9 876.6 L156.4 877.5 L157.9 876.9 L159.4 874.2 L160.8 875.3 L162.3 873.5 L163.8 873.7 L165.2 872.4 L166.7 873.1 L168.2 872.7 L169.6 873.5 L171.1 877.4 L172.6 876 L174.1 876.1 L175.5 873.6 L177 873.2 L178.5 873.9 L179.9 873.5 L181.4 873.7 L182.9 873.6 L184.3 872.2 L185.8 873.2 L187.3 872.2 L188.8 874.7 L190.2 873.5 L191.7 874.1 L193.2 873.8 L194.6 874.6 L196.1 873.3 L197.6 874.4 L199 873.8 L200.5 875 L202 875 L203.5 874.4 L204.9 873 L206.4 873.9 L207.9 874.2 L209.3 875.4 L210.8 873.4 L212.3 873.1 L213.7 872.6 L215.2 871.8 L216.7 871 L218.2 870.2 L219.6 868.6 L221.1 867 L222.6 866.6 L224 867.9 L225.5 869.9 L227 870.5 L228.4 871.1 L229.9 871.2 L231.4 871.3 L232.9 870.8 L234.3 871.2 L235.8 872.7 L237.3 871.3 L238.7 870 L240.2 872.4 L241.7 871.9 L243.1 872.6 L244.6 872.6 L246.1 870.3 L247.6 872.8 L249 873.6 L250.5 872.1 L252 871.9 L253.4 870.9 L254.9 869 L256.4 868.7 L257.8 869 L259.3 870 L260.8 870.1 L262.3 869.3 L263.7 870.2 L265.2 868.4 L266.7 869.9 L268.1 871.4 L269.6 871 L271.1 869.3 L272.6 869.5 L274 871.3 L275.5 873 L277 874.8 L278.4 872.8 L279.9 872.7 L281.4 873.3 L282.8 872.7 L284.3 869.7 L285.8 871.4 L287.3 874.2 L288.7 874.3 L290.2 872.2 L291.7 871.4 L293.1 871.5 L294.6 874.2 L296.1 873.6 L297.5 872.6 L299 873.6 L300.5 872.3 L302 873.6 L303.4 871.6 L304.9 870.5 L306.4 871.2 L307.8 872.5 L309.3 872.3 L310.8 871.8 L312.2 869.1 L313.7 868.6 L315.2 868.4 L316.7 868.4 L318.1 869.6 L319.6 869.3 L321.1 870.4 L322.5 870.3 L324 869.7 L325.5 869.8 L326.9 870.3 L328.4 871 L329.9 869.9 L331.4 869.5 L332.8 867.9 L334.3 870.4 L335.8 871.9 L337.2 871.1 L338.7 870.5 L340.2 869.3 L341.6 870.4 L343.1 870.9 L344.6 873.6 L346.1 873 L347.5 871.5 L349 868.7 L350.5 871.4 L351.9 871.7 L353.4 869.9 L354.9 870.8 L356.3 869.4 L357.8 874.3 L359.3 874.7 L360.8 874.4 L362.2 873.3 L363.7 870.3 L365.2 870.2 L366.6 868.3 L368.1 869.4 L369.6 866.7 L371 866.2 L372.5 868.1 L374 869.6 L375.5 867 L376.9 864.8 L378.4 866 L379.9 866.5 L381.3 864.5 L382.8 863.3 L384.3 863.6 L385.7 863.5 L387.2 864.3 L388.7 867.2 L390.2 868.7 L391.6 871.4 L393.1 870.8 L394.6 870.7 L396 869.9 L397.5 870.6 L399 870 L400.4 869.3 L401.9 872 L403.4 874.7 L404.9 876 L406.3 877.6 L407.8 876.9 L409.3 875 L410.7 874.6 L412.2 873.7 L413.7 872.1 L415.1 870.4 L416.6 869.4 L418.1 870.3 L419.6 870.9 L421 870.5 L422.5 872.2 L424 871.7 L425.4 871.7 L426.9 872.4 L428.4 870.3 L429.8 868 L431.3 869.8 L432.8 869.3 L434.3 871.4 L435.7 871.6 L437.2 872.5 L438.7 872.9 L440.1 869.9 L441.6 871.3 L443.1 870.7 L444.5 870.2 L446 870.4 L447.5 871.9 L449 873.1 L450.4 874 L451.9 871.6 L453.4 871.4 L454.8 869.3 L456.3 870.7 L457.8 872.4 L459.2 872 L460.7 872.9 L462.2 873.6 L463.7 875 L465.1 873.8 L466.6 873.1 L468.1 872.9 L469.5 875.7 L471 876.7 L472.5 876 L473.9 876.1 L475.4 875.7 L476.9 874.9 L478.4 873.6 L479.8 872.4 L481.3 870.3 L482.8 869.4 L484.2 871.2 L485.7 870.7 L487.2 869.5 L488.6 868.2 L490.1 867.9 L491.6 868.1 L493.1 867 L494.5 867.2 L496 867.4 L497.5 866.2 L498.9 865.5 L500.4 864.7 L501.9 864 L503.3 865.9 L504.8 863.2 L506.3 863.9 L507.8 863.8 L509.2 863.8 L510.7 864.5 L512.2 867 L513.6 867.8 L515.1 868.3 L516.6 868.4 L518 869.3 L519.5 871.4 L521 871.5 L522.5 871.1 L523.9 871 L525.4 871.4 L526.9 871.7 L528.3 875 L529.8 876.6 L531.3 877.2 L532.7 878.4 L534.2 876.5 L535.7 876.7 L537.2 876.7 L538.6 873.7 L540.1 871.7 L541.6 870.9 L543 872.3 L544.5 873.4 L546 870.9 L547.4 871.8 L548.9 871.4 L550.4 871.2 L551.9 871.1 L553.3 871.4 L554.8 869.9 L556.3 870.1 L557.7 870.1 L559.2 872.2 L560.7 875.5 L562.1 878.3 L562.4 876.5" fill="none" stroke="#8358b0" stroke-width="3.7" stroke-linejoin="round" stroke-linecap="round" stroke-opacity="0.82"/><path d="M118.2 895.5 L119.7 890.3 L121.1 885.9 L122.6 881.3 L124.1 878.4 L125.5 873.9 L127 871.5 L128.5 871.9 L130 868.8 L131.4 865.4 L132.9 862.5 L134.4 861.7 L135.8 863 L137.3 864 L138.8 865 L140.2 866.3 L141.7 866.9 L143.2 866 L144.7 866.2 L146.1 865.5 L147.6 863.6 L149.1 864.1 L150.5 863.4 L152 862.7 L153.5 864.7 L154.9 864.6 L156.4 863 L157.9 862.4 L159.4 864.9 L160.8 863.3 L162.3 863.5 L163.8 863.4 L165.2 863.2 L166.7 863.1 L168.2 861.8 L169.6 860.8 L171.1 860.3 L172.6 859.6 L174.1 860.5 L175.5 861.7 L177 859.4 L178.5 859.6 L179.9 857.8 L181.4 856.8 L182.9 856.6 L184.3 856.8 L185.8 856.1 L187.3 853 L188.8 855.6 L190.2 855.2 L191.7 855 L193.2 856.4 L194.6 855.9 L196.1 854.7 L197.6 856.2 L199 857.2 L200.5 856.4 L202 858 L203.5 858.5 L204.9 857.1 L206.4 859.7 L207.9 859.7 L209.3 858.2 L210.8 859.5 L212.3 860.2 L213.7 861.8 L215.2 860.3 L216.7 862.4 L218.2 863.8 L219.6 864.6 L221.1 865.2 L222.6 866.4 L224 865.9 L225.5 864.7 L227 862.7 L228.4 863.7 L229.9 863.9 L231.4 863.2 L232.9 862.4 L234.3 862.4 L235.8 858.5 L237.3 859.3 L238.7 856.6 L240.2 858.7 L241.7 861.1 L243.1 863.8 L244.6 862.8 L246.1 863.5 L247.6 863.5 L249 861.2 L250.5 863.4 L252 864.1 L253.4 864.8 L254.9 864.3 L256.4 865.2 L257.8 866.2 L259.3 868.4 L260.8 868.8 L262.3 873 L263.7 871.2 L265.2 870.4 L266.7 869.1 L268.1 867.2 L269.6 868.4 L271.1 867.9 L272.6 865 L274 864.6 L275.5 865.3 L277 862.4 L278.4 862.2 L279.9 861.3 L281.4 863.5 L282.8 862.3 L284.3 860.4 L285.8 858.7 L287.3 860.5 L288.7 858.9 L290.2 861 L291.7 857.7 L293.1 857.2 L294.6 856.7 L296.1 855.7 L297.5 855.6 L299 856.5 L300.5 855.4 L302 853.7 L303.4 855.7 L304.9 857.1 L306.4 855.3 L307.8 855.2 L309.3 851.7 L310.8 853.7 L312.2 852 L313.7 851.8 L315.2 854.7 L316.7 852.9 L318.1 853.9 L319.6 853.5 L321.1 852.6 L322.5 853.1 L324 855.4 L325.5 855.2 L326.9 856.3 L328.4 858.7 L329.9 859.5 L331.4 858.9 L332.8 862.1 L334.3 862.7 L335.8 864.8 L337.2 863.4 L338.7 866 L340.2 864.3 L341.6 863 L343.1 864 L344.6 864.9 L346.1 866.4 L347.5 866.6 L349 867.4 L350.5 867.9 L351.9 865.5 L353.4 862.7 L354.9 861.8 L356.3 862.2 L357.8 862 L359.3 860.2 L360.8 857.9 L362.2 857.2 L363.7 857.9 L365.2 857.2 L366.6 859.3 L368.1 859.6 L369.6 860 L371 859.3 L372.5 861.4 L374 861.3 L375.5 859.7 L376.9 861.5 L378.4 861.4 L379.9 863.2 L381.3 863.1 L382.8 861.8 L384.3 861.8 L385.7 860.8 L387.2 859.8 L388.7 860 L390.2 860.9 L391.6 860.5 L393.1 859.9 L394.6 858.9 L396 859.6 L397.5 859.8 L399 860.8 L400.4 860.8 L401.9 862.8 L403.4 859.8 L404.9 859.8 L406.3 860.4 L407.8 861.3 L409.3 859 L410.7 858 L412.2 858.8 L413.7 860.6 L415.1 861.8 L416.6 859.5 L418.1 860.4 L419.6 863.1 L421 863.9 L422.5 863.6 L424 864.2 L425.4 864.3 L426.9 867.7 L428.4 868.6 L429.8 867.6 L431.3 866.3 L432.8 866.2 L434.3 865 L435.7 864 L437.2 864.2 L438.7 863.9 L440.1 864.3 L441.6 864 L443.1 864.8 L444.5 863.7 L446 863.3 L447.5 863.6 L449 862.8 L450.4 864.7 L451.9 864 L453.4 862.5 L454.8 865 L456.3 866 L457.8 865.4 L459.2 866.9 L460.7 868 L462.2 868.5 L463.7 866.7 L465.1 867.4 L466.6 866.5 L468.1 866.6 L469.5 866.8 L471 866.8 L472.5 867.8 L473.9 866.1 L475.4 866.2 L476.9 865.4 L478.4 863.7 L479.8 863.1 L481.3 862.9 L482.8 862.9 L484.2 861 L485.7 861.6 L487.2 860.3 L488.6 859.9 L490.1 856.2 L491.6 853.9 L493.1 854.7 L494.5 855.1 L496 856.8 L497.5 859.3 L498.9 858.2 L500.4 860.2 L501.9 863.7 L503.3 863.1 L504.8 861.6 L506.3 860.9 L507.8 859.5 L509.2 859.3 L510.7 859.5 L512.2 859.6 L513.6 861.1 L515.1 862.2 L516.6 863.9 L518 865.5 L519.5 864.5 L521 865.4 L522.5 865.4 L523.9 863 L525.4 862.2 L526.9 860.2 L528.3 860.1 L529.8 860.6 L531.3 859 L532.7 858.6 L534.2 858.9 L535.7 859.6 L537.2 860.2 L538.6 860.5 L540.1 862.8 L541.6 863.6 L543 863.6 L544.5 865.9 L546 865.8 L547.4 867.7 L548.9 866.7 L550.4 869.3 L551.9 869 L553.3 867.1 L554.8 867.2 L556.3 865 L557.7 863.6 L559.2 864 L560.7 863.1 L562.1 863.3 L562.4 863.5" fill="none" stroke="#6a3a9e" stroke-width="3.7" stroke-linejoin="round" stroke-linecap="round" stroke-opacity="0.82"/><path d="M118.2 895.5 L119.7 892 L121.1 885.3 L122.6 878.1 L124.1 874 L125.5 869.9 L127 865.2 L128.5 860.6 L130 858.5 L131.4 855.9 L132.9 853.5 L134.4 852 L135.8 850.2 L137.3 849.7 L138.8 848.3 L140.2 844.5 L141.7 843.6 L143.2 841.5 L144.7 840.7 L146.1 840 L147.6 837.9 L149.1 834 L150.5 834 L152 831.1 L153.5 832.5 L154.9 830.4 L156.4 829.9 L157.9 831.9 L159.4 828.8 L160.8 828.9 L162.3 827.6 L163.8 827.3 L165.2 826.7 L166.7 827.9 L168.2 827.4 L169.6 827.5 L171.1 827.6 L172.6 824.7 L174.1 826.3 L175.5 825.1 L177 822.5 L178.5 821.8 L179.9 822.9 L181.4 823.5 L182.9 821.6 L184.3 821.1 L185.8 820.8 L187.3 821.2 L188.8 821.4 L190.2 823.2 L191.7 822.4 L193.2 822.5 L194.6 824.5 L196.1 826.2 L197.6 826.6 L199 828 L200.5 828.7 L202 829.5 L203.5 830.4 L204.9 830.2 L206.4 830.5 L207.9 829.3 L209.3 828.4 L210.8 825.8 L212.3 827.4 L213.7 828 L215.2 829 L216.7 826.8 L218.2 827.1 L219.6 827.3 L221.1 825.9 L222.6 828.2 L224 829.5 L225.5 827.3 L227 827.7 L228.4 829.4 L229.9 826.7 L231.4 827.5 L232.9 828.6 L234.3 829.4 L235.8 826 L237.3 825 L238.7 826 L240.2 828 L241.7 826.6 L243.1 826.4 L244.6 826.1 L246.1 828.7 L247.6 828.5 L249 829.9 L250.5 831.1 L252 832.3 L253.4 830.8 L254.9 829.3 L256.4 828.9 L257.8 827.4 L259.3 823.9 L260.8 822.1 L262.3 822.3 L263.7 821 L265.2 819.2 L266.7 818.2 L268.1 821.4 L269.6 820.4 L271.1 820.6 L272.6 820.9 L274 820.5 L275.5 822.2 L277 823.1 L278.4 823.3 L279.9 821.6 L281.4 823.7 L282.8 823.6 L284.3 822.4 L285.8 818.4 L287.3 818.8 L288.7 817.5 L290.2 817.7 L291.7 817.3 L293.1 816.5 L294.6 818 L296.1 817.6 L297.5 818.6 L299 816.7 L300.5 816.3 L302 817.8 L303.4 817.4 L304.9 815.8 L306.4 814.6 L307.8 814.1 L309.3 814.2 L310.8 815.2 L312.2 815 L313.7 815.8 L315.2 817.1 L316.7 817.4 L318.1 819.2 L319.6 819.9 L321.1 819.6 L322.5 819.6 L324 820.1 L325.5 819.9 L326.9 819.3 L328.4 820.8 L329.9 821.4 L331.4 823.3 L332.8 823.4 L334.3 824.5 L335.8 825 L337.2 824.1 L338.7 824.1 L340.2 822.9 L341.6 822.3 L343.1 823.3 L344.6 823.2 L346.1 822.5 L347.5 821 L349 821.7 L350.5 823.5 L351.9 819.5 L353.4 821.5 L354.9 822.4 L356.3 824.4 L357.8 826 L359.3 824.8 L360.8 827.6 L362.2 827 L363.7 827.1 L365.2 828 L366.6 827.8 L368.1 828.1 L369.6 827.5 L371 826.5 L372.5 827.8 L374 828.4 L375.5 832.3 L376.9 834 L378.4 837.1 L379.9 836.5 L381.3 835.7 L382.8 835.6 L384.3 836.1 L385.7 835 L387.2 836 L388.7 834.2 L390.2 832.9 L391.6 833.9 L393.1 834.5 L394.6 836.2 L396 837.6 L397.5 838 L399 836.6 L400.4 836 L401.9 837.9 L403.4 835.7 L404.9 834.4 L406.3 832.9 L407.8 831.3 L409.3 829.6 L410.7 827.6 L412.2 826.8 L413.7 824.6 L415.1 827.4 L416.6 827 L418.1 825.2 L419.6 826.2 L421 826.9 L422.5 824.7 L424 824.4 L425.4 826.4 L426.9 826.5 L428.4 826.3 L429.8 826.8 L431.3 825.7 L432.8 824.7 L434.3 826.2 L435.7 825 L437.2 824.2 L438.7 824.5 L440.1 823.9 L441.6 821.9 L443.1 824.3 L444.5 824.3 L446 827 L447.5 827.7 L449 826.7 L450.4 829.5 L451.9 829.5 L453.4 829.1 L454.8 829.7 L456.3 826.9 L457.8 828.1 L459.2 827.3 L460.7 827.3 L462.2 826.3 L463.7 827.5 L465.1 827.7 L466.6 828.5 L468.1 829.6 L469.5 828.4 L471 827.4 L472.5 827.2 L473.9 826 L475.4 825.7 L476.9 827.1 L478.4 826.2 L479.8 824.4 L481.3 825.3 L482.8 826.7 L484.2 829 L485.7 828 L487.2 827.2 L488.6 828.1 L490.1 828.4 L491.6 828.6 L493.1 826.5 L494.5 825.4 L496 823.2 L497.5 823 L498.9 821.5 L500.4 820.3 L501.9 817.8 L503.3 814.4 L504.8 813.5 L506.3 812.2 L507.8 813 L509.2 813.1 L510.7 811.6 L512.2 810.5 L513.6 808.4 L515.1 807.9 L516.6 807.6 L518 807.8 L519.5 808.5 L521 812.3 L522.5 812.8 L523.9 816.5 L525.4 817.4 L526.9 818.4 L528.3 816.2 L529.8 816.6 L531.3 814.6 L532.7 814.5 L534.2 813.1 L535.7 813.2 L537.2 813.6 L538.6 815.6 L540.1 816.9 L541.6 816.1 L543 815.7 L544.5 814.8 L546 813.9 L547.4 812.7 L548.9 815.2 L550.4 818.2 L551.9 819.1 L553.3 821.5 L554.8 821.2 L556.3 821 L557.7 821.5 L559.2 823.7 L560.7 823.5 L562.1 825.1 L562.4 824.5" fill="none" stroke="#52206a" stroke-width="3.7" stroke-linejoin="round" stroke-linecap="round" stroke-opacity="0.82"/><path d="M118.2 895.5 L119.7 891.9 L121.1 884.1 L122.6 876.4 L124.1 871.7 L125.5 867.6 L127 862 L128.5 855 L130 853.2 L131.4 853.5 L132.9 849.8 L134.4 849.5 L135.8 847.9 L137.3 846.3 L138.8 844.9 L140.2 841.9 L141.7 839.8 L143.2 840 L144.7 836.9 L146.1 834.3 L147.6 831.3 L149.1 831.1 L150.5 832.3 L152 833.5 L153.5 833.5 L154.9 833.4 L156.4 831.7 L157.9 829.3 L159.4 827.9 L160.8 824.9 L162.3 823.7 L163.8 820.9 L165.2 816.6 L166.7 812.7 L168.2 809.8 L169.6 806.4 L171.1 802 L172.6 798.5 L174.1 796.6 L175.5 794.6 L177 793.3 L178.5 791 L179.9 790.7 L181.4 791 L182.9 790 L184.3 790.6 L185.8 788.1 L187.3 786.7 L188.8 786 L190.2 784.5 L191.7 783.8 L193.2 783.7 L194.6 783.8 L196.1 783.5 L197.6 783.4 L199 783.8 L200.5 782.6 L202 782.7 L203.5 780.7 L204.9 780.1 L206.4 778.3 L207.9 778.2 L209.3 777.1 L210.8 776.2 L212.3 773.9 L213.7 772 L215.2 771.5 L216.7 766.4 L218.2 764.8 L219.6 762.6 L221.1 759.5 L222.6 755.5 L224 755 L225.5 752.8 L227 752.8 L228.4 750.8 L229.9 748.8 L231.4 749.3 L232.9 748.9 L234.3 747.1 L235.8 745.9 L237.3 746.4 L238.7 745.1 L240.2 744.2 L241.7 744.4 L243.1 745.7 L244.6 746.3 L246.1 745.9 L247.6 746.8 L249 745.7 L250.5 745.1 L252 748 L253.4 746.7 L254.9 746.8 L256.4 746 L257.8 744.6 L259.3 743.6 L260.8 743.1 L262.3 742.3 L263.7 740.2 L265.2 739 L266.7 738 L268.1 735.8 L269.6 733.1 L271.1 732.9 L272.6 731.6 L274 730.5 L275.5 730.6 L277 731.1 L278.4 727.5 L279.9 722.8 L281.4 721.5 L282.8 721.4 L284.3 722.9 L285.8 724.4 L287.3 723.5 L288.7 723.5 L290.2 722.4 L291.7 724 L293.1 722.2 L294.6 721.6 L296.1 723.6 L297.5 720.8 L299 720.1 L300.5 719.1 L302 718.8 L303.4 718 L304.9 718 L306.4 716.4 L307.8 715 L309.3 711.6 L310.8 710.9 L312.2 708 L313.7 708.1 L315.2 704.8 L316.7 702.8 L318.1 698.8 L319.6 697.4 L321.1 696.5 L322.5 696 L324 694.7 L325.5 693 L326.9 691.8 L328.4 690.4 L329.9 688.6 L331.4 686.2 L332.8 683.7 L334.3 685.3 L335.8 683.4 L337.2 682.1 L338.7 683.6 L340.2 683.6 L341.6 683 L343.1 684 L344.6 685.3 L346.1 682.9 L347.5 683.9 L349 683.4 L350.5 683.7 L351.9 681.9 L353.4 683.1 L354.9 683.3 L356.3 681.5 L357.8 685.6 L359.3 689 L360.8 688.9 L362.2 689.9 L363.7 690 L365.2 690.6 L366.6 690 L368.1 691.4 L369.6 692.5 L371 692.4 L372.5 692.5 L374 690.9 L375.5 692.5 L376.9 691.7 L378.4 692.7 L379.9 691.7 L381.3 694.5 L382.8 693 L384.3 693.5 L385.7 691.8 L387.2 690.5 L388.7 690.2 L390.2 688.9 L391.6 690.5 L393.1 688.4 L394.6 688.8 L396 685.6 L397.5 684.9 L399 687.4 L400.4 687.2 L401.9 691.5 L403.4 693 L404.9 694.1 L406.3 697.2 L407.8 695.8 L409.3 693.5 L410.7 689.5 L412.2 687.4 L413.7 687.4 L415.1 685.1 L416.6 686.3 L418.1 687 L419.6 686.3 L421 683.1 L422.5 681.6 L424 679.6 L425.4 680.3 L426.9 681.3 L428.4 682.7 L429.8 684.5 L431.3 686.6 L432.8 688.7 L434.3 685.8 L435.7 683.4 L437.2 683.3 L438.7 682.4 L440.1 681.2 L441.6 679.5 L443.1 678.6 L444.5 677.2 L446 674.6 L447.5 675 L449 674 L450.4 671.3 L451.9 669.2 L453.4 666.7 L454.8 663.8 L456.3 661.8 L457.8 661.3 L459.2 662.3 L460.7 664.2 L462.2 665.1 L463.7 664.3 L465.1 665.5 L466.6 665.9 L468.1 665.8 L469.5 668.4 L471 667.9 L472.5 669.9 L473.9 668.4 L475.4 669.9 L476.9 670 L478.4 670.5 L479.8 669 L481.3 666.1 L482.8 665.2 L484.2 664.6 L485.7 663.6 L487.2 662.5 L488.6 659 L490.1 659.9 L491.6 657.9 L493.1 657.2 L494.5 655.2 L496 655.4 L497.5 654.2 L498.9 655.2 L500.4 653.6 L501.9 656.8 L503.3 657.6 L504.8 659 L506.3 659.3 L507.8 658.4 L509.2 658.2 L510.7 657.8 L512.2 655.1 L513.6 654.3 L515.1 654.7 L516.6 656.4 L518 655.1 L519.5 657.6 L521 659 L522.5 661.9 L523.9 664.4 L525.4 664.5 L526.9 665.1 L528.3 669.1 L529.8 670.4 L531.3 670.1 L532.7 671 L534.2 670.8 L535.7 671.2 L537.2 670.7 L538.6 671.5 L540.1 673.4 L541.6 674.5 L543 675 L544.5 674.2 L546 674.8 L547.4 673.6 L548.9 673.2 L550.4 670.6 L551.9 665.8 L553.3 662.9 L554.8 660.3 L556.3 663.1 L557.7 664 L559.2 664 L560.7 662.9 L562.1 662.3 L562.4 662.2" fill="none" stroke="#2e1010" stroke-width="3.7" stroke-linejoin="round" stroke-linecap="round" stroke-opacity="0.82"/><path d="M118.2 895.5 L119.7 888.5 L121.1 881.5 L122.6 874.1 L124.1 867.3 L125.5 860.3 L127 854.7 L128.5 850.7 L130 850 L131.4 845.5 L132.9 843.7 L134.4 842.2 L135.8 839.9 L137.3 837.6 L138.8 835.9 L140.2 834.6 L141.7 833.4 L143.2 830.4 L144.7 828.8 L146.1 826.5 L147.6 825.3 L149.1 822.9 L150.5 820.5 L152 817.4 L153.5 813.3 L154.9 810.8 L156.4 808.7 L157.9 807.2 L159.4 803.3 L160.8 799.9 L162.3 796.7 L163.8 793.3 L165.2 791.7 L166.7 787.2 L168.2 783.4 L169.6 782 L171.1 780.7 L172.6 779 L174.1 777.7 L175.5 776.5 L177 773 L178.5 769.4 L179.9 766.8 L181.4 765 L182.9 762.5 L184.3 759.3 L185.8 756.4 L187.3 753.5 L188.8 749.5 L190.2 747.2 L191.7 744.1 L193.2 741.5 L194.6 738.4 L196.1 735 L197.6 732.1 L199 728.4 L200.5 725 L202 722.2 L203.5 719.4 L204.9 715.8 L206.4 713.4 L207.9 710.1 L209.3 706.6 L210.8 702.8 L212.3 699.7 L213.7 694.9 L215.2 690.7 L216.7 687 L218.2 682.8 L219.6 679.7 L221.1 677.2 L222.6 673 L224 670.6 L225.5 667.8 L227 666.6 L228.4 661.3 L229.9 654.6 L231.4 647.5 L232.9 640.9 L234.3 635.8 L235.8 632.3 L237.3 629.1 L238.7 626.9 L240.2 623.7 L241.7 619.6 L243.1 615.9 L244.6 612.6 L246.1 608.5 L247.6 605.1 L249 601.5 L250.5 598.4 L252 593.9 L253.4 588.7 L254.9 584.8 L256.4 576.5 L257.8 569 L259.3 560.5 L260.8 557.1 L262.3 554.1 L263.7 550.6 L265.2 540.7 L266.7 534.5 L268.1 532.5 L269.6 528.3 L271.1 525.6 L272.6 521.8 L274 517.7 L275.5 513.4 L277 503.9 L278.4 496.6 L279.9 493.7 L281.4 492.5 L282.8 487.5 L284.3 482.5 L285.8 475.8 L287.3 469.2 L288.7 462.9 L289.5 460.5" fill="none" stroke="#8c4a22" stroke-width="3.7" stroke-linejoin="round" stroke-linecap="round" stroke-opacity="0.82"/><path d="M118.2 895.5 L119.1 891.8 L127.4 854.6 L135.6 821.6 L141.8 799 L145.9 782.5 L150.1 757.7 L154.2 730.9 L156.8 720.4 L162.2 688.2 L167.6 647.9 L171.6 607.7 L175.6 567.4 L179.7 527.1 L183.7 470.7 L184.5 460" fill="none" stroke="#e8772a" stroke-width="3.7" stroke-linejoin="round" stroke-linecap="round" stroke-opacity="0.82"/></g><rect x="118.7" y="470.7" width="443.7" height="441.1" fill="none" stroke="#3d3d3d" stroke-width="1.05"/><line x1="113.2" y1="911.8" x2="118.7" y2="911.8" stroke="#3d3d3d" stroke-width="1.1"/><text x="109.5" y="918.6" font-family='"Liberation Sans", sans-serif' font-size="18.5" fill="#000" text-anchor="end" textLength="50.6" lengthAdjust="spacingAndGlyphs">0.000</text><line x1="113.2" y1="856.7" x2="118.7" y2="856.7" stroke="#3d3d3d" stroke-width="1.1"/><text x="109.5" y="863.5" font-family='"Liberation Sans", sans-serif' font-size="18.5" fill="#000" text-anchor="end" textLength="50.6" lengthAdjust="spacingAndGlyphs">0.025</text><line x1="113.2" y1="801.5" x2="118.7" y2="801.5" stroke="#3d3d3d" stroke-width="1.1"/><text x="109.5" y="808.3" font-family='"Liberation Sans", sans-serif' font-size="18.5" fill="#000" text-anchor="end" textLength="50.6" lengthAdjust="spacingAndGlyphs">0.050</text><line x1="113.2" y1="746.4" x2="118.7" y2="746.4" stroke="#3d3d3d" stroke-width="1.1"/><text x="109.5" y="753.2" font-family='"Liberation Sans", sans-serif' font-size="18.5" fill="#000" text-anchor="end" textLength="50.6" lengthAdjust="spacingAndGlyphs">0.075</text><line x1="113.2" y1="691.2" x2="118.7" y2="691.2" stroke="#3d3d3d" stroke-width="1.1"/><text x="109.5" y="698" font-family='"Liberation Sans", sans-serif' font-size="18.5" fill="#000" text-anchor="end" textLength="50.6" lengthAdjust="spacingAndGlyphs">0.100</text><line x1="113.2" y1="636.1" x2="118.7" y2="636.1" stroke="#3d3d3d" stroke-width="1.1"/><text x="109.5" y="642.9" font-family='"Liberation Sans", sans-serif' font-size="18.5" fill="#000" text-anchor="end" textLength="50.6" lengthAdjust="spacingAndGlyphs">0.125</text><line x1="113.2" y1="581" x2="118.7" y2="581" stroke="#3d3d3d" stroke-width="1.1"/><text x="109.5" y="587.8" font-family='"Liberation Sans", sans-serif' font-size="18.5" fill="#000" text-anchor="end" textLength="50.6" lengthAdjust="spacingAndGlyphs">0.150</text><line x1="113.2" y1="525.8" x2="118.7" y2="525.8" stroke="#3d3d3d" stroke-width="1.1"/><text x="109.5" y="532.6" font-family='"Liberation Sans", sans-serif' font-size="18.5" fill="#000" text-anchor="end" textLength="50.6" lengthAdjust="spacingAndGlyphs">0.175</text><line x1="113.2" y1="470.7" x2="118.7" y2="470.7" stroke="#3d3d3d" stroke-width="1.1"/><text x="109.5" y="477.5" font-family='"Liberation Sans", sans-serif' font-size="18.5" fill="#000" text-anchor="end" textLength="50.6" lengthAdjust="spacingAndGlyphs">0.200</text><line x1="118.8" y1="911.8" x2="118.8" y2="917.3" stroke="#3d3d3d" stroke-width="1.1"/><text x="118.8" y="933.3" font-family='"Liberation Sans", sans-serif' font-size="18.5" fill="#000" text-anchor="middle" textLength="11.2" lengthAdjust="spacingAndGlyphs">0</text><line x1="192.5" y1="911.8" x2="192.5" y2="917.3" stroke="#3d3d3d" stroke-width="1.1"/><text x="192.5" y="933.3" font-family='"Liberation Sans", sans-serif' font-size="18.5" fill="#000" text-anchor="middle" textLength="22.5" lengthAdjust="spacingAndGlyphs">50</text><line x1="266.3" y1="911.8" x2="266.3" y2="917.3" stroke="#3d3d3d" stroke-width="1.1"/><text x="266.3" y="933.3" font-family='"Liberation Sans", sans-serif' font-size="18.5" fill="#000" text-anchor="middle" textLength="33.7" lengthAdjust="spacingAndGlyphs">100</text><line x1="340" y1="911.8" x2="340" y2="917.3" stroke="#3d3d3d" stroke-width="1.1"/><text x="340" y="933.3" font-family='"Liberation Sans", sans-serif' font-size="18.5" fill="#000" text-anchor="middle" textLength="33.7" lengthAdjust="spacingAndGlyphs">150</text><line x1="413.7" y1="911.8" x2="413.7" y2="917.3" stroke="#3d3d3d" stroke-width="1.1"/><text x="413.7" y="933.3" font-family='"Liberation Sans", sans-serif' font-size="18.5" fill="#000" text-anchor="middle" textLength="33.7" lengthAdjust="spacingAndGlyphs">200</text><line x1="487.5" y1="911.8" x2="487.5" y2="917.3" stroke="#3d3d3d" stroke-width="1.1"/><text x="487.5" y="933.3" font-family='"Liberation Sans", sans-serif' font-size="18.5" fill="#000" text-anchor="middle" textLength="33.7" lengthAdjust="spacingAndGlyphs">250</text><line x1="561.2" y1="911.8" x2="561.2" y2="917.3" stroke="#3d3d3d" stroke-width="1.1"/><text x="561.2" y="933.3" font-family='"Liberation Sans", sans-serif' font-size="18.5" fill="#000" text-anchor="middle" textLength="33.7" lengthAdjust="spacingAndGlyphs">300</text><text x="0" y="0" font-family='"Liberation Sans", sans-serif' font-style="italic" font-size="34" fill="#000" transform="translate(329 968.4) scale(1.3 1)">t</text><rect x="14.1" y="728.1" width="36.8" height="2.7" fill="#000"/><rect x="14.1" y="637" width="36.8" height="2.7" fill="#000"/><text x="0" y="0" font-family='"Liberation Sans", sans-serif' font-style="italic" font-size="39" fill="#000" transform="translate(41.3 725.6) rotate(-90) scale(1.11 1)">m</text><text x="0" y="0" font-family='"Liberation Sans", sans-serif' font-size="36" fill="#000" transform="translate(40.4 686.8) rotate(-90)">(</text><text x="0" y="0" font-family='"Liberation Sans", sans-serif' font-style="italic" font-size="36" fill="#000" transform="translate(42.5 673.5) rotate(-90)">t</text><text x="0" y="0" font-family='"Liberation Sans", sans-serif' font-size="36" fill="#000" transform="translate(40.4 657.5) rotate(-90)">)</text><line x1="444" y1="483" x2="492.7" y2="483" stroke="#8358b0" stroke-width="3.5"/><text x="508.6" y="491" font-family='"Liberation Sans", sans-serif' font-size="23" fill="#000" text-anchor="start" textLength="36" lengthAdjust="spacingAndGlyphs">1.0</text><line x1="444" y1="506.8" x2="492.7" y2="506.8" stroke="#6a3a9e" stroke-width="3.5"/><text x="508.6" y="514.8" font-family='"Liberation Sans", sans-serif' font-size="23" fill="#000" text-anchor="start" textLength="36" lengthAdjust="spacingAndGlyphs">2.0</text><line x1="444" y1="530.6" x2="492.7" y2="530.6" stroke="#52206a" stroke-width="3.5"/><text x="508.6" y="538.6" font-family='"Liberation Sans", sans-serif' font-size="23" fill="#000" text-anchor="start" textLength="36" lengthAdjust="spacingAndGlyphs">5.0</text><line x1="444" y1="554.7" x2="492.7" y2="554.7" stroke="#2e1010" stroke-width="3.5"/><text x="508.8" y="562.7" font-family='"Liberation Sans", sans-serif' font-size="23" fill="#000">e²</text><line x1="444" y1="578.7" x2="492.7" y2="578.7" stroke="#8c4a22" stroke-width="3.5"/><text x="508.6" y="586.7" font-family='"Liberation Sans", sans-serif' font-size="23" fill="#000" text-anchor="start" textLength="50.4" lengthAdjust="spacingAndGlyphs">10.0</text><line x1="444" y1="602.5" x2="492.7" y2="602.5" stroke="#e8772a" stroke-width="3.5"/><text x="508.6" y="610.5" font-family='"Liberation Sans", sans-serif' font-size="23" fill="#000" text-anchor="start" textLength="50.4" lengthAdjust="spacingAndGlyphs">20.0</text><text x="0" y="474.8" font-family='"Liberation Sans", sans-serif' font-weight="bold" font-size="46" fill="#000" transform="translate(606.4 0) scale(0.86 1)">C</text><path d="M644.5 478.1 L648.8 482.4 L653.2 486.7 L657.5 491 L661.8 495.4 L666.2 499.7 L670.5 504 L674.9 508.3 L679.2 512.7 L683.5 517 L687.9 521.3 L692.2 525.7 L696.5 530 L700.9 534.3 L705.2 538.6 L709.5 543 L713.9 547.3 L718.2 551.6 L722.5 556 L726.9 560.3 L731.2 564.6 L735.6 568.9 L739.9 573.3 L744.2 577.6 L748.6 581.9 L752.9 586.2 L757.2 590.6 L761.6 594.9 L765.9 599.2 L770.2 603.6 L774.6 607.9 L778.9 612.2 L783.3 616.5 L787.6 620.9 L791.9 625.2 L796.3 629.5 L800.6 633.9 L804.9 638.2 L809.3 642.5 L813.6 646.8 L817.9 651.2 L822.3 655.5 L826.6 659.8 L830.9 664.2 L835.3 668.5 L839.6 672.8 L844 677.1 L848.3 681.5 L852.6 685.8 L857 690.1 L861.3 694.5 L865.6 698.8 L870 703.1 L874.3 707.4 L878.6 711.8 L883 716.1 L887.3 720.4 L891.7 724.7 L896 729.1 L900.3 733.4 L904.7 737.7 L909 742.1 L913.3 746.4 L917.7 750.7 L922 755 L926.3 759.4 L930.7 763.7 L935 768 L939.3 772.4 L943.7 776.7 L948 781 L952.4 785.3 L956.7 789.7 L961 794 L965.4 798.3 L969.7 802.7 L974 807 L978.4 811.3 L982.7 815.6 L987 820 L991.4 824.3 L995.7 828.6 L1000.1 832.9 L1004.4 837.3 L1008.7 841.6 L1013.1 845.9 L1017.4 850.3 L1021.7 854.6 L1026.1 858.9 L1030.4 863.2 L1034.7 867.6 L1039.1 871.9 L1043.4 876.2 L1047.7 880.6 L1052.1 884.9 L1056.4 889.2 L1060.8 893.5 L1065.1 897.9 L1069.4 902.2 L1073.8 906.5 L1078.1 910.9" fill="none" stroke="#8358b0" stroke-width="2.7" stroke-linejoin="round" stroke-linecap="round" stroke-opacity="0.82" stroke-linecap="butt"/><path d="M644.5 550.2 L648.8 553.2 L653.2 556.2 L657.5 559.1 L661.8 562.1 L666.2 565.1 L670.5 568 L674.9 571 L679.2 574 L683.5 576.9 L687.9 579.8 L692.2 582.8 L696.5 585.7 L700.9 588.6 L705.2 591.5 L709.5 594.5 L713.9 597.4 L718.2 600.3 L722.5 603.2 L726.9 606.1 L731.2 609 L735.6 611.9 L739.9 614.7 L744.2 617.6 L748.6 620.5 L752.9 623.4 L757.2 626.2 L761.6 629.1 L765.9 632 L770.2 634.8 L774.6 637.7 L778.9 640.6 L783.3 643.4 L787.6 646.3 L791.9 649.1 L796.3 651.9 L800.6 654.8 L804.9 657.6 L809.3 660.5 L813.6 663.3 L817.9 666.1 L822.3 669 L826.6 671.8 L830.9 674.6 L835.3 677.5 L839.6 680.3 L844 683.1 L848.3 686 L852.6 688.8 L857 691.6 L861.3 694.5 L865.6 697.3 L870 700.1 L874.3 702.9 L878.6 705.8 L883 708.6 L887.3 711.4 L891.7 714.3 L896 717.1 L900.3 719.9 L904.7 722.8 L909 725.6 L913.3 728.4 L917.7 731.3 L922 734.1 L926.3 737 L930.7 739.8 L935 742.6 L939.3 745.5 L943.7 748.3 L948 751.2 L952.4 754.1 L956.7 756.9 L961 759.8 L965.4 762.7 L969.7 765.5 L974 768.4 L978.4 771.3 L982.7 774.2 L987 777 L991.4 779.9 L995.7 782.8 L1000.1 785.7 L1004.4 788.6 L1008.7 791.5 L1013.1 794.4 L1017.4 797.4 L1021.7 800.3 L1026.1 803.2 L1030.4 806.1 L1034.7 809.1 L1039.1 812 L1043.4 814.9 L1047.7 817.9 L1052.1 820.9 L1056.4 823.8 L1060.8 826.8 L1065.1 829.8 L1069.4 832.7 L1073.8 835.7 L1078.1 838.7" fill="none" stroke="#6a3a9e" stroke-width="2.7" stroke-linejoin="round" stroke-linecap="round" stroke-opacity="0.82" stroke-linecap="butt"/><path d="M644.5 622.3 L648.8 624.7 L653.2 627 L657.5 629.3 L661.8 631.6 L666.2 633.8 L670.5 635.9 L674.9 638 L679.2 640.1 L683.5 642.1 L687.9 644.1 L692.2 646.1 L696.5 648 L700.9 649.8 L705.2 651.7 L709.5 653.4 L713.9 655.2 L718.2 656.8 L722.5 658.5 L726.9 660.1 L731.2 661.7 L735.6 663.2 L739.9 664.7 L744.2 666.1 L748.6 667.5 L752.9 668.9 L757.2 670.2 L761.6 671.5 L765.9 672.8 L770.2 674 L774.6 675.2 L778.9 676.4 L783.3 677.5 L787.6 678.6 L791.9 679.7 L796.3 680.8 L800.6 681.8 L804.9 682.8 L809.3 683.8 L813.6 684.8 L817.9 685.7 L822.3 686.6 L826.6 687.5 L830.9 688.4 L835.3 689.3 L839.6 690.2 L844 691.1 L848.3 691.9 L852.6 692.8 L857 693.6 L861.3 694.5 L865.6 695.3 L870 696.1 L874.3 697 L878.6 697.8 L883 698.7 L887.3 699.6 L891.7 700.5 L896 701.4 L900.3 702.3 L904.7 703.2 L909 704.1 L913.3 705.1 L917.7 706.1 L922 707.1 L926.3 708.1 L930.7 709.2 L935 710.3 L939.3 711.4 L943.7 712.5 L948 713.7 L952.4 714.9 L956.7 716.1 L961 717.4 L965.4 718.7 L969.7 720 L974 721.4 L978.4 722.8 L982.7 724.2 L987 725.7 L991.4 727.2 L995.7 728.8 L1000.1 730.4 L1004.4 732.1 L1008.7 733.7 L1013.1 735.5 L1017.4 737.2 L1021.7 739.1 L1026.1 740.9 L1030.4 742.8 L1034.7 744.8 L1039.1 746.8 L1043.4 748.8 L1047.7 750.9 L1052.1 753 L1056.4 755.1 L1060.8 757.3 L1065.1 759.6 L1069.4 761.9 L1073.8 764.2 L1078.1 766.6" fill="none" stroke="#52206a" stroke-width="2.7" stroke-linejoin="round" stroke-linecap="round" stroke-opacity="0.82" stroke-linecap="butt"/><path d="M644.5 642.9 L648.8 645.3 L653.2 647.8 L657.5 650.1 L661.8 652.4 L666.2 654.7 L670.5 656.9 L674.9 659 L679.2 661.1 L683.5 663.1 L687.9 665 L692.2 666.9 L696.5 668.7 L700.9 670.5 L705.2 672.1 L709.5 673.8 L713.9 675.3 L718.2 676.8 L722.5 678.2 L726.9 679.5 L731.2 680.8 L735.6 682 L739.9 683.2 L744.2 684.3 L748.6 685.3 L752.9 686.3 L757.2 687.1 L761.6 688 L765.9 688.7 L770.2 689.5 L774.6 690.1 L778.9 690.7 L783.3 691.3 L787.6 691.7 L791.9 692.2 L796.3 692.6 L800.6 692.9 L804.9 693.2 L809.3 693.5 L813.6 693.7 L817.9 693.9 L822.3 694 L826.6 694.2 L830.9 694.3 L835.3 694.3 L839.6 694.4 L844 694.4 L848.3 694.4 L852.6 694.4 L857 694.4 L861.3 694.5 L865.6 694.5 L870 694.5 L874.3 694.5 L878.6 694.5 L883 694.5 L887.3 694.6 L891.7 694.6 L896 694.7 L900.3 694.9 L904.7 695 L909 695.2 L913.3 695.4 L917.7 695.7 L922 696 L926.3 696.3 L930.7 696.7 L935 697.2 L939.3 697.6 L943.7 698.2 L948 698.8 L952.4 699.4 L956.7 700.2 L961 700.9 L965.4 701.8 L969.7 702.6 L974 703.6 L978.4 704.6 L982.7 705.7 L987 706.9 L991.4 708.1 L995.7 709.4 L1000.1 710.7 L1004.4 712.1 L1008.7 713.6 L1013.1 715.1 L1017.4 716.8 L1021.7 718.4 L1026.1 720.2 L1030.4 722 L1034.7 723.9 L1039.1 725.8 L1043.4 727.8 L1047.7 729.9 L1052.1 732 L1056.4 734.2 L1060.8 736.5 L1065.1 738.8 L1069.4 741.1 L1073.8 743.6 L1078.1 746" fill="none" stroke="#2e1010" stroke-width="2.7" stroke-linejoin="round" stroke-linecap="round" stroke-opacity="0.82" stroke-linecap="butt"/><path d="M644.5 655.1 L648.8 657.8 L653.2 660.3 L657.5 662.9 L661.8 665.3 L666.2 667.7 L670.5 670 L674.9 672.2 L679.2 674.4 L683.5 676.5 L687.9 678.5 L692.2 680.5 L696.5 682.3 L700.9 684.1 L705.2 685.8 L709.5 687.4 L713.9 688.9 L718.2 690.3 L722.5 691.7 L726.9 692.9 L731.2 694.1 L735.6 695.2 L739.9 696.2 L744.2 697.1 L748.6 697.9 L752.9 698.7 L757.2 699.3 L761.6 699.9 L765.9 700.4 L770.2 700.7 L774.6 701.1 L778.9 701.3 L783.3 701.4 L787.6 701.5 L791.9 701.5 L796.3 701.4 L800.6 701.3 L804.9 701.1 L809.3 700.8 L813.6 700.5 L817.9 700.1 L822.3 699.7 L826.6 699.2 L830.9 698.7 L835.3 698.2 L839.6 697.6 L844 697 L848.3 696.4 L852.6 695.8 L857 695.1 L861.3 694.5 L865.6 693.8 L870 693.1 L874.3 692.5 L878.6 691.9 L883 691.3 L887.3 690.7 L891.7 690.2 L896 689.7 L900.3 689.2 L904.7 688.8 L909 688.4 L913.3 688.1 L917.7 687.8 L922 687.6 L926.3 687.5 L930.7 687.4 L935 687.4 L939.3 687.5 L943.7 687.6 L948 687.8 L952.4 688.2 L956.7 688.5 L961 689 L965.4 689.6 L969.7 690.2 L974 691 L978.4 691.8 L982.7 692.7 L987 693.7 L991.4 694.8 L995.7 696 L1000.1 697.2 L1004.4 698.6 L1008.7 700 L1013.1 701.5 L1017.4 703.1 L1021.7 704.8 L1026.1 706.6 L1030.4 708.4 L1034.7 710.4 L1039.1 712.4 L1043.4 714.5 L1047.7 716.7 L1052.1 718.9 L1056.4 721.2 L1060.8 723.6 L1065.1 726 L1069.4 728.6 L1073.8 731.1 L1078.1 733.8" fill="none" stroke="#8c4a22" stroke-width="2.7" stroke-linejoin="round" stroke-linecap="round" stroke-opacity="0.82" stroke-linecap="butt"/><path d="M644.5 673.8 L648.8 677 L653.2 680 L657.5 683 L661.8 685.9 L666.2 688.7 L670.5 691.5 L674.9 694.2 L679.2 696.7 L683.5 699.2 L687.9 701.6 L692.2 703.9 L696.5 706.1 L700.9 708.2 L705.2 710.2 L709.5 712 L713.9 713.8 L718.2 715.4 L722.5 716.9 L726.9 718.2 L731.2 719.5 L735.6 720.6 L739.9 721.5 L744.2 722.4 L748.6 723 L752.9 723.6 L757.2 723.9 L761.6 724.2 L765.9 724.3 L770.2 724.2 L774.6 724 L778.9 723.6 L783.3 723.1 L787.6 722.4 L791.9 721.7 L796.3 720.7 L800.6 719.6 L804.9 718.4 L809.3 717.1 L813.6 715.7 L817.9 714.1 L822.3 712.5 L826.6 710.7 L830.9 708.9 L835.3 707 L839.6 705 L844 702.9 L848.3 700.9 L852.6 698.7 L857 696.6 L861.3 694.5 L865.6 692.3 L870 690.2 L874.3 688 L878.6 686 L883 683.9 L887.3 681.9 L891.7 680 L896 678.2 L900.3 676.4 L904.7 674.8 L909 673.2 L913.3 671.8 L917.7 670.5 L922 669.3 L926.3 668.2 L930.7 667.2 L935 666.5 L939.3 665.8 L943.7 665.3 L948 664.9 L952.4 664.7 L956.7 664.6 L961 664.7 L965.4 665 L969.7 665.3 L974 665.9 L978.4 666.5 L982.7 667.4 L987 668.3 L991.4 669.4 L995.7 670.7 L1000.1 672 L1004.4 673.5 L1008.7 675.1 L1013.1 676.9 L1017.4 678.7 L1021.7 680.7 L1026.1 682.8 L1030.4 685 L1034.7 687.3 L1039.1 689.7 L1043.4 692.2 L1047.7 694.7 L1052.1 697.4 L1056.4 700.2 L1060.8 703 L1065.1 705.9 L1069.4 708.9 L1073.8 711.9 L1078.1 715.1" fill="none" stroke="#e8772a" stroke-width="2.7" stroke-linejoin="round" stroke-linecap="round" stroke-opacity="0.82" stroke-linecap="butt"/><line x1="861.3" y1="468.3" x2="861.3" y2="919.8" stroke="#3d3d3d" stroke-width="1.1"/><line x1="622.2" y1="694.5" x2="1099.9" y2="694.5" stroke="#3d3d3d" stroke-width="1.1"/><line x1="857" y1="478.1" x2="861.3" y2="478.1" stroke="#3d3d3d" stroke-width="1.1"/><text x="854.6" y="484.8" font-family='"Liberation Sans", sans-serif' font-size="18.5" fill="#000" text-anchor="end" textLength="28.1" lengthAdjust="spacingAndGlyphs">1.0</text><line x1="857" y1="532.2" x2="861.3" y2="532.2" stroke="#3d3d3d" stroke-width="1.1"/><text x="854.6" y="538.9" font-family='"Liberation Sans", sans-serif' font-size="18.5" fill="#000" text-anchor="end" textLength="39.3" lengthAdjust="spacingAndGlyphs">0.75</text><line x1="857" y1="586.2" x2="861.3" y2="586.2" stroke="#3d3d3d" stroke-width="1.1"/><text x="854.6" y="593" font-family='"Liberation Sans", sans-serif' font-size="18.5" fill="#000" text-anchor="end" textLength="28.1" lengthAdjust="spacingAndGlyphs">0.5</text><line x1="857" y1="640.4" x2="861.3" y2="640.4" stroke="#3d3d3d" stroke-width="1.1"/><text x="854.6" y="647.1" font-family='"Liberation Sans", sans-serif' font-size="18.5" fill="#000" text-anchor="end" textLength="39.3" lengthAdjust="spacingAndGlyphs">0.25</text><line x1="857" y1="748.6" x2="861.3" y2="748.6" stroke="#3d3d3d" stroke-width="1.1"/><text x="854.6" y="755.3" font-family='"Liberation Sans", sans-serif' font-size="18.5" fill="#000" text-anchor="end" textLength="45.7" lengthAdjust="spacingAndGlyphs">-0.25</text><line x1="857" y1="802.7" x2="861.3" y2="802.7" stroke="#3d3d3d" stroke-width="1.1"/><text x="854.6" y="809.4" font-family='"Liberation Sans", sans-serif' font-size="18.5" fill="#000" text-anchor="end" textLength="34.5" lengthAdjust="spacingAndGlyphs">-0.5</text><line x1="857" y1="856.8" x2="861.3" y2="856.8" stroke="#3d3d3d" stroke-width="1.1"/><text x="854.6" y="863.5" font-family='"Liberation Sans", sans-serif' font-size="18.5" fill="#000" text-anchor="end" textLength="45.7" lengthAdjust="spacingAndGlyphs">-0.75</text><line x1="857" y1="910.9" x2="861.3" y2="910.9" stroke="#3d3d3d" stroke-width="1.1"/><text x="854.6" y="917.6" font-family='"Liberation Sans", sans-serif' font-size="18.5" fill="#000" text-anchor="end" textLength="34.5" lengthAdjust="spacingAndGlyphs">-1.0</text><line x1="644.5" y1="694.5" x2="644.5" y2="698.5" stroke="#3d3d3d" stroke-width="1.1"/><text x="643" y="712.9" font-family='"Liberation Sans", sans-serif' font-size="18.5" fill="#000" text-anchor="middle" textLength="34.5" lengthAdjust="spacingAndGlyphs">-1.0</text><line x1="752.9" y1="694.5" x2="752.9" y2="698.5" stroke="#3d3d3d" stroke-width="1.1"/><text x="751.4" y="712.9" font-family='"Liberation Sans", sans-serif' font-size="18.5" fill="#000" text-anchor="middle" textLength="34.5" lengthAdjust="spacingAndGlyphs">-0.5</text><line x1="969.7" y1="694.5" x2="969.7" y2="691" stroke="#3d3d3d" stroke-width="1.1"/><text x="970.2" y="689.8" font-family='"Liberation Sans", sans-serif' font-size="18.5" fill="#000" text-anchor="middle" textLength="28.1" lengthAdjust="spacingAndGlyphs">0.5</text><line x1="1078.1" y1="694.5" x2="1078.1" y2="691" stroke="#3d3d3d" stroke-width="1.1"/><text x="1078.6" y="689.8" font-family='"Liberation Sans", sans-serif' font-size="18.5" fill="#000" text-anchor="middle" textLength="28.1" lengthAdjust="spacingAndGlyphs">1.0</text><text x="1087.5" y="721.6" font-family='"Liberation Sans", sans-serif' font-style="italic" font-size="39" fill="#000">m</text><text x="868.5" y="875.3" font-family='"Liberation Sans", sans-serif' font-style="italic" font-size="40" fill="#000">v</text><text x="889.5" y="875.3" font-family='"Liberation Sans", sans-serif' font-size="37" fill="#000">(</text><text x="0" y="0" font-family='"Liberation Sans", sans-serif' font-style="italic" font-size="40" fill="#000" transform="translate(904.3 875.3) scale(1.06 1)">m</text><text x="941.8" y="875.3" font-family='"Liberation Sans", sans-serif' font-size="37" fill="#000">)</text><rect x="867.4" y="890" width="86.8" height="3.3" fill="#000"/><text x="0" y="0" font-family='"Liberation Sans", sans-serif' font-style="italic" font-size="40" fill="#000" transform="translate(899.6 924.9) scale(0.98 1)">λ</text><line x1="991.3" y1="477.4" x2="1040.4" y2="477.4" stroke="#8358b0" stroke-width="3.5"/><text x="1056.6" y="485.6" font-family='"Liberation Sans", sans-serif' font-size="23" fill="#000" text-anchor="start" textLength="36" lengthAdjust="spacingAndGlyphs">1.0</text><line x1="991.3" y1="501.4" x2="1040.4" y2="501.4" stroke="#6a3a9e" stroke-width="3.5"/><text x="1056.6" y="509.6" font-family='"Liberation Sans", sans-serif' font-size="23" fill="#000" text-anchor="start" textLength="36" lengthAdjust="spacingAndGlyphs">2.0</text><line x1="991.3" y1="525.1" x2="1040.4" y2="525.1" stroke="#52206a" stroke-width="3.5"/><text x="1056.6" y="533.3" font-family='"Liberation Sans", sans-serif' font-size="23" fill="#000" text-anchor="start" textLength="36" lengthAdjust="spacingAndGlyphs">5.0</text><line x1="991.3" y1="549" x2="1040.4" y2="549" stroke="#2e1010" stroke-width="3.5"/><text x="1056.8" y="557.2" font-family='"Liberation Sans", sans-serif' font-size="23" fill="#000">e</text><text x="1070.8" y="549.9" font-family='"Liberation Sans", sans-serif' font-size="13.4" fill="#000">2</text><line x1="991.3" y1="572.7" x2="1040.4" y2="572.7" stroke="#8c4a22" stroke-width="3.5"/><text x="1056.6" y="580.9" font-family='"Liberation Sans", sans-serif' font-size="23" fill="#000" text-anchor="start" textLength="50.4" lengthAdjust="spacingAndGlyphs">10.0</text><line x1="991.3" y1="596.6" x2="1040.4" y2="596.6" stroke="#e8772a" stroke-width="3.5"/><text x="1056.6" y="604.8" font-family='"Liberation Sans", sans-serif' font-size="23" fill="#000" text-anchor="start" textLength="50.4" lengthAdjust="spacingAndGlyphs">20.0</text><rect x="623.6" y="735.2" width="184.4" height="183.9" fill="#fff" stroke="#2a2a2a" stroke-width="1.1"/><path d="M631.9 910.9 L693.8 910.9 L693.8 894.1 L694 891.8 L694.2 889.4 L694.3 887.1 L694.5 884.7 L694.7 882.4 L694.8 880.2 L695 878.1 L695.2 876.1 L695.3 874.1 L695.5 872.3 L695.7 870.5 L695.8 868.8 L696 867.2 L696.2 865.7 L696.3 864.2 L696.5 862.7 L696.7 861.3 L696.8 860 L697 858.7 L697.2 857.4 L697.3 856.2 L697.5 855 L697.7 853.9 L697.8 852.8 L698 851.7 L698.2 850.6 L698.3 849.5 L698.5 848.5 L698.7 847.5 L698.9 846.6 L699 845.6 L700.7 837.1 L702.4 829.9 L704 823.7 L705.7 818.3 L707.4 813.4 L709.1 809.1 L710.8 805.1 L712.4 801.5 L714.1 798.2 L715.8 795.2 L717.5 792.4 L719.1 789.8 L720.8 787.4 L722.5 785.1 L724.2 782.9 L725.8 780.9 L727.5 779.1 L729.2 777.3 L730.9 775.6 L732.5 774 L734.2 772.5 L735.9 771.1 L737.6 769.7 L739.2 768.4 L740.9 767.2 L742.6 766 L744.3 764.9 L745.9 763.8 L747.6 762.8 L749.3 761.8 L751 760.9 L752.7 760 L754.3 759.1 L756 758.3 L757.7 757.5 L759.4 756.7 L761 755.9 L762.7 755.2 L764.4 754.5 L766.1 753.9 L767.7 753.2 L769.4 752.6 L771.1 752 L772.8 751.4 L774.4 750.8 L776.1 750.3 L777.8 749.7 L779.5 749.2 L781.1 748.7 L782.8 748.2 L784.5 747.8 L786.2 747.3 L787.8 746.9 L789.5 746.4 L791.2 746 L792.9 745.6 L794.6 745.2 L796.2 744.8 L797.9 744.4" fill="none" stroke="#3a1c1c" stroke-width="2" stroke-linejoin="round" stroke-linecap="round" stroke-linecap="butt"/><line x1="623.6" y1="910.9" x2="626.3" y2="910.9" stroke="#3d3d3d" stroke-width="0.9"/><text x="622" y="915.6" font-family='"Liberation Sans", sans-serif' font-size="12.8" fill="#000" text-anchor="end" textLength="19.4" lengthAdjust="spacingAndGlyphs">0.0</text><line x1="623.6" y1="872" x2="626.3" y2="872" stroke="#3d3d3d" stroke-width="0.9"/><text x="622" y="876.7" font-family='"Liberation Sans", sans-serif' font-size="12.8" fill="#000" text-anchor="end" textLength="19.4" lengthAdjust="spacingAndGlyphs">0.2</text><line x1="623.6" y1="833.1" x2="626.3" y2="833.1" stroke="#3d3d3d" stroke-width="0.9"/><text x="622" y="837.8" font-family='"Liberation Sans", sans-serif' font-size="12.8" fill="#000" text-anchor="end" textLength="19.4" lengthAdjust="spacingAndGlyphs">0.4</text><line x1="623.6" y1="794.2" x2="626.3" y2="794.2" stroke="#3d3d3d" stroke-width="0.9"/><text x="622" y="798.9" font-family='"Liberation Sans", sans-serif' font-size="12.8" fill="#000" text-anchor="end" textLength="19.4" lengthAdjust="spacingAndGlyphs">0.6</text><line x1="623.6" y1="755.3" x2="626.3" y2="755.3" stroke="#3d3d3d" stroke-width="0.9"/><text x="622" y="760" font-family='"Liberation Sans", sans-serif' font-size="12.8" fill="#000" text-anchor="end" textLength="19.4" lengthAdjust="spacingAndGlyphs">0.8</text><line x1="631.9" y1="919.1" x2="631.9" y2="916.1" stroke="#3d3d3d" stroke-width="0.9"/><text x="631.9" y="932" font-family='"Liberation Sans", sans-serif' font-size="12.6" fill="#000" text-anchor="middle" textLength="19.1" lengthAdjust="spacingAndGlyphs">0.0</text><line x1="652.9" y1="919.1" x2="652.9" y2="916.9" stroke="#3d3d3d" stroke-width="0.9"/><line x1="673.8" y1="919.1" x2="673.8" y2="916.1" stroke="#3d3d3d" stroke-width="0.9"/><text x="673.8" y="932" font-family='"Liberation Sans", sans-serif' font-size="12.6" fill="#000" text-anchor="middle" textLength="19.1" lengthAdjust="spacingAndGlyphs">5.0</text><line x1="694.8" y1="919.1" x2="694.8" y2="916.9" stroke="#3d3d3d" stroke-width="0.9"/><line x1="715.7" y1="919.1" x2="715.7" y2="916.1" stroke="#3d3d3d" stroke-width="0.9"/><text x="715.7" y="932" font-family='"Liberation Sans", sans-serif' font-size="12.6" fill="#000" text-anchor="middle" textLength="26.8" lengthAdjust="spacingAndGlyphs">10.0</text><line x1="736.6" y1="919.1" x2="736.6" y2="916.9" stroke="#3d3d3d" stroke-width="0.9"/><line x1="757.6" y1="919.1" x2="757.6" y2="916.1" stroke="#3d3d3d" stroke-width="0.9"/><text x="757.6" y="932" font-family='"Liberation Sans", sans-serif' font-size="12.6" fill="#000" text-anchor="middle" textLength="26.8" lengthAdjust="spacingAndGlyphs">15.0</text><line x1="778.5" y1="919.1" x2="778.5" y2="916.9" stroke="#3d3d3d" stroke-width="0.9"/><line x1="799.5" y1="919.1" x2="799.5" y2="916.1" stroke="#3d3d3d" stroke-width="0.9"/><text x="799.5" y="932" font-family='"Liberation Sans", sans-serif' font-size="12.6" fill="#000" text-anchor="middle" textLength="26.8" lengthAdjust="spacingAndGlyphs">20.0</text><text x="707.8" y="944" font-family='"Liberation Sans", sans-serif' font-style="italic" font-size="17" fill="#000">c</text><rect x="586.2" y="816" width="16.7" height="1.6" fill="#000"/><rect x="586.2" y="850.1" width="16.7" height="1.6" fill="#000"/><text x="0" y="0" font-family='"Liberation Sans", sans-serif' font-style="italic" font-size="19" fill="#000" transform="translate(598.9 848) rotate(-90)">m</text><text x="0" y="0" font-family='"Liberation Sans", sans-serif' font-size="16.4" fill="#000" transform="translate(595.2 829) rotate(-90)">*</text>
</svg>
</body></html>
